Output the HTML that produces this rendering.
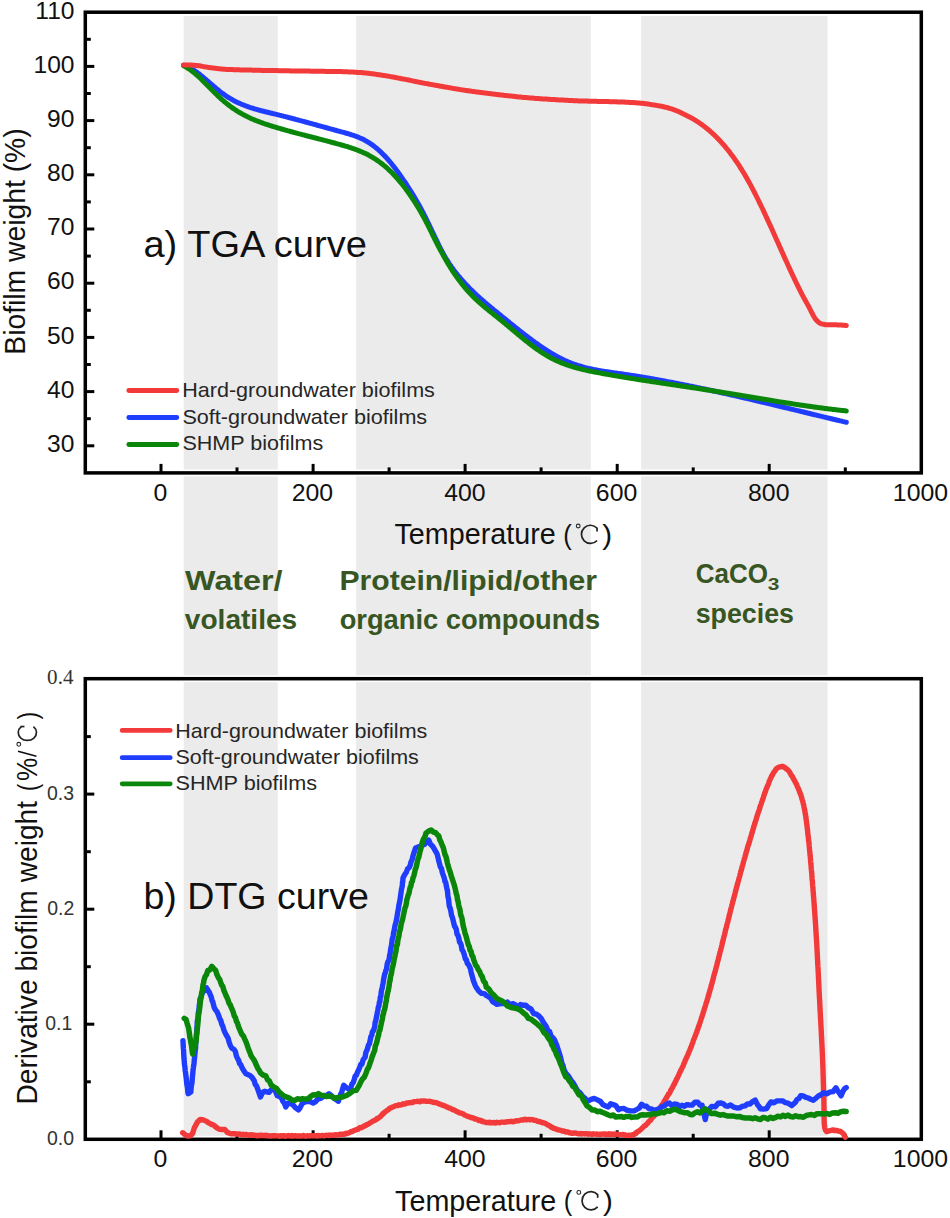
<!DOCTYPE html>
<html><head><meta charset="utf-8"><style>
html,body{margin:0;padding:0;background:#fff;}
svg{display:block;}
text{font-family:"Liberation Sans",sans-serif;}
.tk{font-size:23px;fill:#111;}
.tks{font-size:20.5px;fill:#333;}
.lg{font-size:20px;fill:#262626;}
.ax{font-size:29px;fill:#111;}
.axs{font-size:29px;fill:#111;}
.big{font-size:37px;fill:#111;}
.gr{font-size:27.5px;font-weight:bold;fill:#375623;}
.gr2{font-size:28.5px;font-weight:bold;fill:#375623;}
.sub{font-size:16px;font-weight:bold;fill:#375623;}
.cc{font-family:"Liberation Serif",serif;font-size:28px;fill:#2a2a2a;}
.sl{font-family:"Liberation Serif",serif;font-size:28px;fill:#111;font-style:italic;}
.tkser{font-family:"Liberation Serif",serif;font-size:20px;fill:#333;}
</style></head>
<body><svg width="950" height="1218" viewBox="0 0 950 1218">
<rect x="0" y="0" width="950" height="1218" fill="#fff"/>
<rect x="183.7" y="16" width="94.10000000000002" height="1122" fill="#ebebeb"/>
<rect x="356.1" y="16" width="234.69999999999993" height="1122" fill="#ebebeb"/>
<rect x="641.1" y="16" width="186.39999999999998" height="1122" fill="#ebebeb"/>
<rect x="85.3" y="12.2" width="836.0" height="460.7" fill="none" stroke="#fff" stroke-width="6.9"/><rect x="85.3" y="12.2" width="836.0" height="460.7" fill="none" stroke="#000" stroke-width="3.5"/>
<line x1="85.3" y1="445.8" x2="94.3" y2="445.8" stroke="#000" stroke-width="3"/>
<line x1="85.3" y1="418.7" x2="90.8" y2="418.7" stroke="#000" stroke-width="3"/>
<line x1="85.3" y1="391.6" x2="94.3" y2="391.6" stroke="#000" stroke-width="3"/>
<line x1="85.3" y1="364.5" x2="90.8" y2="364.5" stroke="#000" stroke-width="3"/>
<line x1="85.3" y1="337.4" x2="94.3" y2="337.4" stroke="#000" stroke-width="3"/>
<line x1="85.3" y1="310.3" x2="90.8" y2="310.3" stroke="#000" stroke-width="3"/>
<line x1="85.3" y1="283.2" x2="94.3" y2="283.2" stroke="#000" stroke-width="3"/>
<line x1="85.3" y1="256.1" x2="90.8" y2="256.1" stroke="#000" stroke-width="3"/>
<line x1="85.3" y1="229.0" x2="94.3" y2="229.0" stroke="#000" stroke-width="3"/>
<line x1="85.3" y1="201.9" x2="90.8" y2="201.9" stroke="#000" stroke-width="3"/>
<line x1="85.3" y1="174.8" x2="94.3" y2="174.8" stroke="#000" stroke-width="3"/>
<line x1="85.3" y1="147.7" x2="90.8" y2="147.7" stroke="#000" stroke-width="3"/>
<line x1="85.3" y1="120.6" x2="94.3" y2="120.6" stroke="#000" stroke-width="3"/>
<line x1="85.3" y1="93.5" x2="90.8" y2="93.5" stroke="#000" stroke-width="3"/>
<line x1="85.3" y1="66.4" x2="94.3" y2="66.4" stroke="#000" stroke-width="3"/>
<line x1="85.3" y1="39.3" x2="90.8" y2="39.3" stroke="#000" stroke-width="3"/>
<line x1="161.0" y1="472.9" x2="161.0" y2="463.9" stroke="#000" stroke-width="3"/>
<line x1="237.0" y1="472.9" x2="237.0" y2="467.4" stroke="#000" stroke-width="3"/>
<line x1="313.1" y1="472.9" x2="313.1" y2="463.9" stroke="#000" stroke-width="3"/>
<line x1="389.1" y1="472.9" x2="389.1" y2="467.4" stroke="#000" stroke-width="3"/>
<line x1="465.1" y1="472.9" x2="465.1" y2="463.9" stroke="#000" stroke-width="3"/>
<line x1="541.1" y1="472.9" x2="541.1" y2="467.4" stroke="#000" stroke-width="3"/>
<line x1="617.2" y1="472.9" x2="617.2" y2="463.9" stroke="#000" stroke-width="3"/>
<line x1="693.2" y1="472.9" x2="693.2" y2="467.4" stroke="#000" stroke-width="3"/>
<line x1="769.2" y1="472.9" x2="769.2" y2="463.9" stroke="#000" stroke-width="3"/>
<line x1="845.3" y1="472.9" x2="845.3" y2="467.4" stroke="#000" stroke-width="3"/>
<polyline points="183.5,65.2 184.5,65.5 185.5,65.9 186.5,66.2 187.5,66.7 188.5,67.1 189.5,67.6 190.5,68.2 191.5,68.8 192.5,69.4 193.5,70.0 194.5,70.6 195.5,71.3 196.5,72.0 197.5,72.8 198.5,73.5 199.5,74.3 200.5,75.1 201.5,75.9 202.5,76.7 203.5,77.5 204.5,78.4 205.5,79.2 206.5,80.1 207.5,80.9 208.5,81.8 209.5,82.7 210.5,83.5 211.5,84.4 212.5,85.3 213.5,86.1 214.5,87.0 215.5,87.8 216.5,88.7 217.5,89.5 218.5,90.3 219.5,91.1 220.5,91.9 221.5,92.7 222.5,93.4 223.5,94.1 224.5,94.8 225.5,95.5 226.5,96.2 227.5,96.9 228.5,97.5 229.5,98.1 230.5,98.7 231.5,99.3 232.5,99.8 233.5,100.4 234.5,100.9 235.5,101.4 236.5,101.9 237.5,102.4 238.5,102.9 239.5,103.3 240.5,103.8 241.5,104.2 242.5,104.6 243.5,105.0 244.5,105.4 245.5,105.8 246.5,106.2 247.5,106.5 248.5,106.9 249.5,107.2 250.5,107.6 251.5,107.9 252.5,108.2 253.5,108.5 254.5,108.8 255.5,109.1 256.5,109.4 257.5,109.7 258.5,110.0 259.5,110.2 260.5,110.5 261.5,110.8 262.5,111.0 263.5,111.3 264.5,111.5 265.5,111.8 266.5,112.0 267.5,112.3 268.5,112.5 269.5,112.7 270.5,113.0 271.5,113.2 272.5,113.5 273.5,113.7 274.5,113.9 275.5,114.2 276.5,114.4 277.5,114.7 278.5,114.9 279.5,115.2 280.5,115.4 281.5,115.7 282.5,115.9 283.5,116.2 284.5,116.4 285.5,116.7 286.5,116.9 287.5,117.2 288.5,117.5 289.5,117.7 290.5,118.0 291.5,118.2 292.5,118.5 293.5,118.8 294.5,119.0 295.5,119.3 296.5,119.6 297.5,119.8 298.5,120.1 299.5,120.4 300.5,120.6 301.5,120.9 302.5,121.2 303.5,121.4 304.5,121.7 305.5,122.0 306.5,122.3 307.5,122.5 308.5,122.8 309.5,123.1 310.5,123.3 311.5,123.6 312.5,123.9 313.5,124.2 314.5,124.4 315.5,124.7 316.5,125.0 317.5,125.3 318.5,125.6 319.5,125.8 320.5,126.1 321.5,126.4 322.5,126.7 323.5,126.9 324.5,127.2 325.5,127.5 326.5,127.8 327.5,128.0 328.5,128.3 329.5,128.6 330.5,128.9 331.5,129.1 332.5,129.4 333.5,129.7 334.5,130.0 335.5,130.2 336.5,130.5 337.5,130.8 338.5,131.1 339.5,131.3 340.5,131.6 341.5,131.9 342.5,132.1 343.5,132.4 344.5,132.7 345.5,133.0 346.5,133.3 347.5,133.5 348.5,133.8 349.5,134.1 350.5,134.5 351.5,134.8 352.5,135.1 353.5,135.4 354.5,135.8 355.5,136.2 356.5,136.5 357.5,136.9 358.5,137.3 359.5,137.8 360.5,138.2 361.5,138.6 362.5,139.1 363.5,139.6 364.5,140.1 365.5,140.7 366.5,141.2 367.5,141.8 368.5,142.4 369.5,143.0 370.5,143.7 371.5,144.4 372.5,145.1 373.5,145.8 374.5,146.6 375.5,147.4 376.5,148.2 377.5,149.1 378.5,149.9 379.5,150.8 380.5,151.8 381.5,152.7 382.5,153.7 383.5,154.7 384.5,155.7 385.5,156.8 386.5,157.9 387.5,159.0 388.5,160.1 389.5,161.3 390.5,162.5 391.5,163.7 392.5,165.0 393.5,166.2 394.5,167.5 395.5,168.8 396.5,170.2 397.5,171.5 398.5,172.9 399.5,174.3 400.5,175.7 401.5,177.2 402.5,178.6 403.5,180.1 404.5,181.5 405.5,183.0 406.5,184.5 407.5,186.1 408.5,187.6 409.5,189.2 410.5,190.8 411.5,192.4 412.5,194.0 413.5,195.6 414.5,197.3 415.5,199.0 416.5,200.7 417.5,202.4 418.5,204.2 419.5,206.0 420.5,207.8 421.5,209.7 422.5,211.6 423.5,213.5 424.5,215.5 425.5,217.4 426.5,219.5 427.5,221.5 428.5,223.6 429.5,225.6 430.5,227.7 431.5,229.9 432.5,232.0 433.5,234.1 434.5,236.2 435.5,238.3 436.5,240.4 437.5,242.4 438.5,244.5 439.5,246.5 440.5,248.5 441.5,250.4 442.5,252.3 443.5,254.1 444.5,255.9 445.5,257.7 446.5,259.3 447.5,261.0 448.5,262.5 449.5,264.1 450.5,265.5 451.5,267.0 452.5,268.3 453.5,269.7 454.5,271.0 455.5,272.3 456.5,273.5 457.5,274.8 458.5,276.0 459.5,277.2 460.5,278.4 461.5,279.5 462.5,280.7 463.5,281.8 464.5,282.9 465.5,284.0 466.5,285.0 467.5,286.1 468.5,287.1 469.5,288.2 470.5,289.2 471.5,290.2 472.5,291.1 473.5,292.1 474.5,293.1 475.5,294.0 476.5,294.9 477.5,295.9 478.5,296.8 479.5,297.7 480.5,298.6 481.5,299.5 482.5,300.3 483.5,301.2 484.5,302.1 485.5,302.9 486.5,303.8 487.5,304.6 488.5,305.4 489.5,306.3 490.5,307.1 491.5,307.9 492.5,308.7 493.5,309.6 494.5,310.4 495.5,311.2 496.5,312.0 497.5,312.8 498.5,313.6 499.5,314.4 500.5,315.2 501.5,316.1 502.5,316.9 503.5,317.7 504.5,318.5 505.5,319.3 506.5,320.1 507.5,320.9 508.5,321.7 509.5,322.6 510.5,323.4 511.5,324.2 512.5,325.0 513.5,325.8 514.5,326.6 515.5,327.4 516.5,328.2 517.5,329.0 518.5,329.8 519.5,330.6 520.5,331.4 521.5,332.1 522.5,332.9 523.5,333.7 524.5,334.5 525.5,335.2 526.5,336.0 527.5,336.8 528.5,337.5 529.5,338.3 530.5,339.0 531.5,339.8 532.5,340.5 533.5,341.2 534.5,342.0 535.5,342.7 536.5,343.4 537.5,344.1 538.5,344.8 539.5,345.5 540.5,346.2 541.5,346.9 542.5,347.6 543.5,348.2 544.5,348.9 545.5,349.5 546.5,350.2 547.5,350.8 548.5,351.5 549.5,352.1 550.5,352.7 551.5,353.3 552.5,353.9 553.5,354.5 554.5,355.0 555.5,355.6 556.5,356.2 557.5,356.7 558.5,357.2 559.5,357.8 560.5,358.3 561.5,358.8 562.5,359.3 563.5,359.8 564.5,360.2 565.5,360.7 566.5,361.1 567.5,361.6 568.5,362.0 569.5,362.4 570.5,362.8 571.5,363.2 572.5,363.6 573.5,364.0 574.5,364.3 575.5,364.7 576.5,365.0 577.5,365.3 578.5,365.6 579.5,365.9 580.5,366.2 581.5,366.5 582.5,366.8 583.5,367.1 584.5,367.4 585.5,367.6 586.5,367.9 587.5,368.1 588.5,368.3 589.5,368.6 590.5,368.8 591.5,369.0 592.5,369.2 593.5,369.4 594.5,369.6 595.5,369.8 596.5,370.0 597.5,370.2 598.5,370.4 599.5,370.6 600.5,370.7 601.5,370.9 602.5,371.1 603.5,371.2 604.5,371.4 605.5,371.5 606.5,371.7 607.5,371.8 608.5,372.0 609.5,372.1 610.5,372.3 611.5,372.4 612.5,372.6 613.5,372.7 614.5,372.9 615.5,373.0 616.5,373.1 617.5,373.3 618.5,373.4 619.5,373.6 620.5,373.7 621.5,373.8 622.5,374.0 623.5,374.1 624.5,374.3 625.5,374.4 626.5,374.6 627.5,374.7 628.5,374.9 629.5,375.0 630.5,375.2 631.5,375.4 632.5,375.5 633.5,375.7 634.5,375.8 635.5,376.0 636.5,376.1 637.5,376.3 638.5,376.5 639.5,376.6 640.5,376.8 641.5,377.0 642.5,377.1 643.5,377.3 644.5,377.5 645.5,377.6 646.5,377.8 647.5,378.0 648.5,378.1 649.5,378.3 650.5,378.5 651.5,378.7 652.5,378.8 653.5,379.0 654.5,379.2 655.5,379.4 656.5,379.5 657.5,379.7 658.5,379.9 659.5,380.1 660.5,380.3 661.5,380.5 662.5,380.6 663.5,380.8 664.5,381.0 665.5,381.2 666.5,381.4 667.5,381.6 668.5,381.8 669.5,381.9 670.5,382.1 671.5,382.3 672.5,382.5 673.5,382.7 674.5,382.9 675.5,383.1 676.5,383.3 677.5,383.5 678.5,383.7 679.5,383.9 680.5,384.1 681.5,384.3 682.5,384.5 683.5,384.7 684.5,384.9 685.5,385.1 686.5,385.3 687.5,385.5 688.5,385.7 689.5,385.9 690.5,386.1 691.5,386.3 692.5,386.5 693.5,386.7 694.5,386.9 695.5,387.1 696.5,387.3 697.5,387.6 698.5,387.8 699.5,388.0 700.5,388.2 701.5,388.4 702.5,388.6 703.5,388.8 704.5,389.0 705.5,389.2 706.5,389.5 707.5,389.7 708.5,389.9 709.5,390.1 710.5,390.3 711.5,390.5 712.5,390.8 713.5,391.0 714.5,391.2 715.5,391.4 716.5,391.6 717.5,391.9 718.5,392.1 719.5,392.3 720.5,392.5 721.5,392.7 722.5,393.0 723.5,393.2 724.5,393.4 725.5,393.6 726.5,393.9 727.5,394.1 728.5,394.3 729.5,394.5 730.5,394.8 731.5,395.0 732.5,395.2 733.5,395.4 734.5,395.7 735.5,395.9 736.5,396.1 737.5,396.4 738.5,396.6 739.5,396.8 740.5,397.1 741.5,397.3 742.5,397.5 743.5,397.7 744.5,398.0 745.5,398.2 746.5,398.4 747.5,398.7 748.5,398.9 749.5,399.1 750.5,399.4 751.5,399.6 752.5,399.8 753.5,400.1 754.5,400.3 755.5,400.6 756.5,400.8 757.5,401.0 758.5,401.3 759.5,401.5 760.5,401.7 761.5,402.0 762.5,402.2 763.5,402.4 764.5,402.7 765.5,402.9 766.5,403.2 767.5,403.4 768.5,403.6 769.5,403.9 770.5,404.1 771.5,404.3 772.5,404.6 773.5,404.8 774.5,405.1 775.5,405.3 776.5,405.5 777.5,405.8 778.5,406.0 779.5,406.3 780.5,406.5 781.5,406.7 782.5,407.0 783.5,407.2 784.5,407.5 785.5,407.7 786.5,407.9 787.5,408.2 788.5,408.4 789.5,408.7 790.5,408.9 791.5,409.2 792.5,409.4 793.5,409.6 794.5,409.9 795.5,410.1 796.5,410.4 797.5,410.6 798.5,410.8 799.5,411.1 800.5,411.3 801.5,411.6 802.5,411.8 803.5,412.0 804.5,412.3 805.5,412.5 806.5,412.8 807.5,413.0 808.5,413.3 809.5,413.5 810.5,413.7 811.5,414.0 812.5,414.2 813.5,414.5 814.5,414.7 815.5,414.9 816.5,415.2 817.5,415.4 818.5,415.7 819.5,415.9 820.5,416.1 821.5,416.4 822.5,416.6 823.5,416.9 824.5,417.1 825.5,417.3 826.5,417.6 827.5,417.8 828.5,418.1 829.5,418.3 830.5,418.5 831.5,418.8 832.5,419.0 833.5,419.3 834.5,419.5 835.5,419.7 836.5,420.0 837.5,420.2 838.5,420.4 839.5,420.7 840.5,420.9 841.5,421.1 842.5,421.4 843.5,421.6 844.5,421.9 845.5,422.1 846.3,422.3" fill="none" stroke="#1f3dfc" stroke-width="5.0" stroke-linejoin="round" stroke-linecap="round"/>
<polyline points="183.5,65.8 184.5,66.3 185.5,66.8 186.5,67.4 187.5,68.0 188.5,68.6 189.5,69.3 190.5,70.0 191.5,70.7 192.5,71.5 193.5,72.3 194.5,73.1 195.5,74.0 196.5,74.8 197.5,75.7 198.5,76.6 199.5,77.5 200.5,78.5 201.5,79.4 202.5,80.4 203.5,81.4 204.5,82.4 205.5,83.4 206.5,84.4 207.5,85.4 208.5,86.4 209.5,87.4 210.5,88.5 211.5,89.5 212.5,90.5 213.5,91.5 214.5,92.5 215.5,93.5 216.5,94.5 217.5,95.4 218.5,96.4 219.5,97.3 220.5,98.3 221.5,99.2 222.5,100.1 223.5,100.9 224.5,101.8 225.5,102.6 226.5,103.4 227.5,104.2 228.5,105.0 229.5,105.8 230.5,106.5 231.5,107.2 232.5,108.0 233.5,108.6 234.5,109.3 235.5,110.0 236.5,110.6 237.5,111.3 238.5,111.9 239.5,112.5 240.5,113.1 241.5,113.6 242.5,114.2 243.5,114.7 244.5,115.3 245.5,115.8 246.5,116.3 247.5,116.8 248.5,117.3 249.5,117.7 250.5,118.2 251.5,118.7 252.5,119.1 253.5,119.5 254.5,119.9 255.5,120.4 256.5,120.8 257.5,121.2 258.5,121.5 259.5,121.9 260.5,122.3 261.5,122.7 262.5,123.0 263.5,123.4 264.5,123.7 265.5,124.1 266.5,124.4 267.5,124.7 268.5,125.0 269.5,125.4 270.5,125.7 271.5,126.0 272.5,126.3 273.5,126.6 274.5,126.9 275.5,127.2 276.5,127.5 277.5,127.8 278.5,128.1 279.5,128.4 280.5,128.7 281.5,129.0 282.5,129.3 283.5,129.5 284.5,129.8 285.5,130.1 286.5,130.4 287.5,130.7 288.5,130.9 289.5,131.2 290.5,131.5 291.5,131.8 292.5,132.0 293.5,132.3 294.5,132.6 295.5,132.8 296.5,133.1 297.5,133.4 298.5,133.6 299.5,133.9 300.5,134.1 301.5,134.4 302.5,134.7 303.5,134.9 304.5,135.2 305.5,135.5 306.5,135.7 307.5,136.0 308.5,136.2 309.5,136.5 310.5,136.7 311.5,137.0 312.5,137.3 313.5,137.5 314.5,137.8 315.5,138.0 316.5,138.3 317.5,138.5 318.5,138.8 319.5,139.1 320.5,139.3 321.5,139.6 322.5,139.8 323.5,140.1 324.5,140.4 325.5,140.6 326.5,140.9 327.5,141.2 328.5,141.4 329.5,141.7 330.5,142.0 331.5,142.2 332.5,142.5 333.5,142.8 334.5,143.0 335.5,143.3 336.5,143.6 337.5,143.9 338.5,144.1 339.5,144.4 340.5,144.7 341.5,145.0 342.5,145.3 343.5,145.5 344.5,145.8 345.5,146.1 346.5,146.4 347.5,146.7 348.5,147.0 349.5,147.4 350.5,147.7 351.5,148.0 352.5,148.4 353.5,148.7 354.5,149.0 355.5,149.4 356.5,149.8 357.5,150.2 358.5,150.5 359.5,150.9 360.5,151.4 361.5,151.8 362.5,152.2 363.5,152.7 364.5,153.1 365.5,153.6 366.5,154.1 367.5,154.6 368.5,155.1 369.5,155.7 370.5,156.2 371.5,156.8 372.5,157.4 373.5,158.0 374.5,158.6 375.5,159.2 376.5,159.9 377.5,160.6 378.5,161.3 379.5,162.0 380.5,162.7 381.5,163.5 382.5,164.3 383.5,165.1 384.5,165.9 385.5,166.7 386.5,167.6 387.5,168.5 388.5,169.4 389.5,170.4 390.5,171.3 391.5,172.3 392.5,173.3 393.5,174.4 394.5,175.4 395.5,176.5 396.5,177.6 397.5,178.7 398.5,179.9 399.5,181.1 400.5,182.3 401.5,183.5 402.5,184.7 403.5,186.0 404.5,187.3 405.5,188.6 406.5,190.0 407.5,191.3 408.5,192.7 409.5,194.2 410.5,195.6 411.5,197.1 412.5,198.6 413.5,200.1 414.5,201.6 415.5,203.2 416.5,204.8 417.5,206.4 418.5,208.1 419.5,209.8 420.5,211.5 421.5,213.2 422.5,215.0 423.5,216.8 424.5,218.7 425.5,220.6 426.5,222.5 427.5,224.4 428.5,226.4 429.5,228.4 430.5,230.5 431.5,232.5 432.5,234.6 433.5,236.6 434.5,238.6 435.5,240.6 436.5,242.6 437.5,244.6 438.5,246.5 439.5,248.4 440.5,250.3 441.5,252.1 442.5,253.9 443.5,255.7 444.5,257.5 445.5,259.3 446.5,261.0 447.5,262.7 448.5,264.4 449.5,266.0 450.5,267.6 451.5,269.2 452.5,270.8 453.5,272.3 454.5,273.8 455.5,275.2 456.5,276.7 457.5,278.1 458.5,279.5 459.5,280.8 460.5,282.1 461.5,283.4 462.5,284.7 463.5,285.9 464.5,287.1 465.5,288.3 466.5,289.5 467.5,290.6 468.5,291.7 469.5,292.8 470.5,293.8 471.5,294.9 472.5,295.9 473.5,296.9 474.5,297.9 475.5,298.9 476.5,299.8 477.5,300.7 478.5,301.7 479.5,302.6 480.5,303.5 481.5,304.3 482.5,305.2 483.5,306.1 484.5,306.9 485.5,307.8 486.5,308.6 487.5,309.4 488.5,310.2 489.5,311.0 490.5,311.8 491.5,312.6 492.5,313.4 493.5,314.2 494.5,315.0 495.5,315.8 496.5,316.6 497.5,317.4 498.5,318.2 499.5,319.0 500.5,319.8 501.5,320.6 502.5,321.5 503.5,322.3 504.5,323.1 505.5,323.9 506.5,324.8 507.5,325.6 508.5,326.4 509.5,327.3 510.5,328.1 511.5,328.9 512.5,329.8 513.5,330.6 514.5,331.4 515.5,332.3 516.5,333.1 517.5,334.0 518.5,334.8 519.5,335.6 520.5,336.4 521.5,337.3 522.5,338.1 523.5,338.9 524.5,339.7 525.5,340.5 526.5,341.3 527.5,342.1 528.5,342.9 529.5,343.7 530.5,344.4 531.5,345.2 532.5,345.9 533.5,346.7 534.5,347.4 535.5,348.2 536.5,348.9 537.5,349.6 538.5,350.3 539.5,351.0 540.5,351.7 541.5,352.3 542.5,353.0 543.5,353.6 544.5,354.2 545.5,354.8 546.5,355.4 547.5,356.0 548.5,356.6 549.5,357.2 550.5,357.7 551.5,358.2 552.5,358.7 553.5,359.3 554.5,359.7 555.5,360.2 556.5,360.7 557.5,361.1 558.5,361.6 559.5,362.0 560.5,362.4 561.5,362.9 562.5,363.3 563.5,363.6 564.5,364.0 565.5,364.4 566.5,364.8 567.5,365.1 568.5,365.4 569.5,365.8 570.5,366.1 571.5,366.4 572.5,366.7 573.5,367.0 574.5,367.3 575.5,367.6 576.5,367.9 577.5,368.2 578.5,368.4 579.5,368.7 580.5,368.9 581.5,369.2 582.5,369.4 583.5,369.7 584.5,369.9 585.5,370.1 586.5,370.3 587.5,370.6 588.5,370.8 589.5,371.0 590.5,371.2 591.5,371.4 592.5,371.6 593.5,371.8 594.5,372.0 595.5,372.2 596.5,372.4 597.5,372.6 598.5,372.7 599.5,372.9 600.5,373.1 601.5,373.3 602.5,373.5 603.5,373.7 604.5,373.8 605.5,374.0 606.5,374.2 607.5,374.4 608.5,374.6 609.5,374.7 610.5,374.9 611.5,375.1 612.5,375.3 613.5,375.4 614.5,375.6 615.5,375.8 616.5,375.9 617.5,376.1 618.5,376.3 619.5,376.5 620.5,376.6 621.5,376.8 622.5,377.0 623.5,377.1 624.5,377.3 625.5,377.4 626.5,377.6 627.5,377.8 628.5,377.9 629.5,378.1 630.5,378.3 631.5,378.4 632.5,378.6 633.5,378.7 634.5,378.9 635.5,379.1 636.5,379.2 637.5,379.4 638.5,379.5 639.5,379.7 640.5,379.8 641.5,380.0 642.5,380.2 643.5,380.3 644.5,380.5 645.5,380.6 646.5,380.8 647.5,380.9 648.5,381.1 649.5,381.2 650.5,381.4 651.5,381.5 652.5,381.7 653.5,381.8 654.5,382.0 655.5,382.1 656.5,382.3 657.5,382.4 658.5,382.6 659.5,382.7 660.5,382.9 661.5,383.0 662.5,383.2 663.5,383.3 664.5,383.5 665.5,383.6 666.5,383.8 667.5,383.9 668.5,384.1 669.5,384.2 670.5,384.4 671.5,384.5 672.5,384.7 673.5,384.8 674.5,385.0 675.5,385.1 676.5,385.3 677.5,385.4 678.5,385.6 679.5,385.7 680.5,385.9 681.5,386.0 682.5,386.2 683.5,386.3 684.5,386.5 685.5,386.6 686.5,386.8 687.5,386.9 688.5,387.1 689.5,387.2 690.5,387.4 691.5,387.5 692.5,387.7 693.5,387.8 694.5,388.0 695.5,388.1 696.5,388.3 697.5,388.4 698.5,388.6 699.5,388.7 700.5,388.9 701.5,389.0 702.5,389.2 703.5,389.4 704.5,389.5 705.5,389.7 706.5,389.8 707.5,390.0 708.5,390.1 709.5,390.3 710.5,390.4 711.5,390.6 712.5,390.8 713.5,390.9 714.5,391.1 715.5,391.2 716.5,391.4 717.5,391.6 718.5,391.7 719.5,391.9 720.5,392.0 721.5,392.2 722.5,392.4 723.5,392.5 724.5,392.7 725.5,392.9 726.5,393.0 727.5,393.2 728.5,393.3 729.5,393.5 730.5,393.7 731.5,393.8 732.5,394.0 733.5,394.2 734.5,394.3 735.5,394.5 736.5,394.7 737.5,394.8 738.5,395.0 739.5,395.2 740.5,395.3 741.5,395.5 742.5,395.7 743.5,395.8 744.5,396.0 745.5,396.2 746.5,396.3 747.5,396.5 748.5,396.7 749.5,396.8 750.5,397.0 751.5,397.2 752.5,397.3 753.5,397.5 754.5,397.7 755.5,397.8 756.5,398.0 757.5,398.2 758.5,398.3 759.5,398.5 760.5,398.7 761.5,398.8 762.5,399.0 763.5,399.2 764.5,399.3 765.5,399.5 766.5,399.6 767.5,399.8 768.5,400.0 769.5,400.1 770.5,400.3 771.5,400.5 772.5,400.6 773.5,400.8 774.5,400.9 775.5,401.1 776.5,401.3 777.5,401.4 778.5,401.6 779.5,401.8 780.5,401.9 781.5,402.1 782.5,402.2 783.5,402.4 784.5,402.5 785.5,402.7 786.5,402.9 787.5,403.0 788.5,403.2 789.5,403.3 790.5,403.5 791.5,403.6 792.5,403.8 793.5,403.9 794.5,404.1 795.5,404.3 796.5,404.4 797.5,404.6 798.5,404.7 799.5,404.9 800.5,405.0 801.5,405.2 802.5,405.3 803.5,405.4 804.5,405.6 805.5,405.7 806.5,405.9 807.5,406.0 808.5,406.2 809.5,406.3 810.5,406.5 811.5,406.6 812.5,406.7 813.5,406.9 814.5,407.0 815.5,407.2 816.5,407.3 817.5,407.4 818.5,407.6 819.5,407.7 820.5,407.8 821.5,408.0 822.5,408.1 823.5,408.2 824.5,408.4 825.5,408.5 826.5,408.6 827.5,408.7 828.5,408.9 829.5,409.0 830.5,409.1 831.5,409.2 832.5,409.4 833.5,409.5 834.5,409.6 835.5,409.7 836.5,409.8 837.5,409.9 838.5,410.1 839.5,410.2 840.5,410.3 841.5,410.4 842.5,410.5 843.5,410.6 844.5,410.7 845.5,410.8 846.3,410.9" fill="none" stroke="#0a870a" stroke-width="5.0" stroke-linejoin="round" stroke-linecap="round"/>
<polyline points="183.5,65.0 184.5,65.0 185.5,65.0 186.5,65.0 187.5,65.0 188.5,65.1 189.5,65.1 190.5,65.1 191.5,65.1 192.5,65.2 193.5,65.2 194.5,65.3 195.5,65.4 196.5,65.4 197.5,65.5 198.5,65.7 199.5,65.8 200.5,66.0 201.5,66.2 202.5,66.4 203.5,66.6 204.5,66.8 205.5,66.9 206.5,67.1 207.5,67.2 208.5,67.4 209.5,67.5 210.5,67.7 211.5,67.8 212.5,68.0 213.5,68.1 214.5,68.2 215.5,68.3 216.5,68.5 217.5,68.6 218.5,68.7 219.5,68.8 220.5,68.9 221.5,69.0 222.5,69.1 223.5,69.2 224.5,69.2 225.5,69.3 226.5,69.4 227.5,69.4 228.5,69.5 229.5,69.5 230.5,69.6 231.5,69.6 232.5,69.6 233.5,69.7 234.5,69.7 235.5,69.7 236.5,69.8 237.5,69.8 238.5,69.8 239.5,69.8 240.5,69.9 241.5,69.9 242.5,69.9 243.5,69.9 244.5,70.0 245.5,70.0 246.5,70.0 247.5,70.0 248.5,70.1 249.5,70.1 250.5,70.1 251.5,70.1 252.5,70.2 253.5,70.2 254.5,70.2 255.5,70.2 256.5,70.2 257.5,70.3 258.5,70.3 259.5,70.3 260.5,70.3 261.5,70.4 262.5,70.4 263.5,70.4 264.5,70.4 265.5,70.4 266.5,70.4 267.5,70.5 268.5,70.5 269.5,70.5 270.5,70.5 271.5,70.5 272.5,70.6 273.5,70.6 274.5,70.6 275.5,70.6 276.5,70.6 277.5,70.6 278.5,70.7 279.5,70.7 280.5,70.7 281.5,70.7 282.5,70.7 283.5,70.7 284.5,70.8 285.5,70.8 286.5,70.8 287.5,70.8 288.5,70.8 289.5,70.8 290.5,70.9 291.5,70.9 292.5,70.9 293.5,70.9 294.5,70.9 295.5,70.9 296.5,70.9 297.5,71.0 298.5,71.0 299.5,71.0 300.5,71.0 301.5,71.0 302.5,71.0 303.5,71.1 304.5,71.1 305.5,71.1 306.5,71.1 307.5,71.1 308.5,71.1 309.5,71.1 310.5,71.2 311.5,71.2 312.5,71.2 313.5,71.2 314.5,71.2 315.5,71.2 316.5,71.2 317.5,71.2 318.5,71.3 319.5,71.3 320.5,71.3 321.5,71.3 322.5,71.3 323.5,71.3 324.5,71.3 325.5,71.4 326.5,71.4 327.5,71.4 328.5,71.4 329.5,71.4 330.5,71.4 331.5,71.5 332.5,71.5 333.5,71.5 334.5,71.5 335.5,71.5 336.5,71.5 337.5,71.5 338.5,71.6 339.5,71.6 340.5,71.6 341.5,71.6 342.5,71.7 343.5,71.7 344.5,71.7 345.5,71.8 346.5,71.8 347.5,71.8 348.5,71.9 349.5,71.9 350.5,72.0 351.5,72.0 352.5,72.1 353.5,72.1 354.5,72.2 355.5,72.2 356.5,72.3 357.5,72.4 358.5,72.4 359.5,72.5 360.5,72.6 361.5,72.6 362.5,72.7 363.5,72.8 364.5,72.9 365.5,73.0 366.5,73.1 367.5,73.2 368.5,73.3 369.5,73.4 370.5,73.6 371.5,73.7 372.5,73.8 373.5,74.0 374.5,74.1 375.5,74.2 376.5,74.4 377.5,74.5 378.5,74.7 379.5,74.8 380.5,75.0 381.5,75.1 382.5,75.3 383.5,75.4 384.5,75.6 385.5,75.7 386.5,75.9 387.5,76.1 388.5,76.2 389.5,76.4 390.5,76.6 391.5,76.8 392.5,77.0 393.5,77.1 394.5,77.3 395.5,77.5 396.5,77.7 397.5,77.9 398.5,78.1 399.5,78.3 400.5,78.5 401.5,78.7 402.5,78.9 403.5,79.1 404.5,79.2 405.5,79.4 406.5,79.6 407.5,79.8 408.5,80.0 409.5,80.2 410.5,80.4 411.5,80.6 412.5,80.9 413.5,81.1 414.5,81.3 415.5,81.5 416.5,81.7 417.5,81.9 418.5,82.1 419.5,82.3 420.5,82.5 421.5,82.7 422.5,82.9 423.5,83.1 424.5,83.3 425.5,83.4 426.5,83.6 427.5,83.8 428.5,84.0 429.5,84.2 430.5,84.4 431.5,84.6 432.5,84.7 433.5,84.9 434.5,85.1 435.5,85.3 436.5,85.5 437.5,85.6 438.5,85.8 439.5,86.0 440.5,86.2 441.5,86.3 442.5,86.5 443.5,86.7 444.5,86.9 445.5,87.0 446.5,87.2 447.5,87.4 448.5,87.6 449.5,87.7 450.5,87.9 451.5,88.1 452.5,88.3 453.5,88.4 454.5,88.6 455.5,88.8 456.5,88.9 457.5,89.1 458.5,89.3 459.5,89.4 460.5,89.6 461.5,89.8 462.5,89.9 463.5,90.1 464.5,90.2 465.5,90.4 466.5,90.5 467.5,90.7 468.5,90.8 469.5,91.0 470.5,91.1 471.5,91.2 472.5,91.4 473.5,91.5 474.5,91.6 475.5,91.8 476.5,91.9 477.5,92.0 478.5,92.2 479.5,92.3 480.5,92.4 481.5,92.6 482.5,92.7 483.5,92.8 484.5,92.9 485.5,93.1 486.5,93.2 487.5,93.3 488.5,93.4 489.5,93.6 490.5,93.7 491.5,93.8 492.5,93.9 493.5,94.1 494.5,94.2 495.5,94.3 496.5,94.4 497.5,94.5 498.5,94.7 499.5,94.8 500.5,94.9 501.5,95.0 502.5,95.1 503.5,95.3 504.5,95.4 505.5,95.5 506.5,95.6 507.5,95.7 508.5,95.8 509.5,95.9 510.5,96.0 511.5,96.1 512.5,96.2 513.5,96.3 514.5,96.5 515.5,96.6 516.5,96.7 517.5,96.8 518.5,96.9 519.5,97.0 520.5,97.1 521.5,97.2 522.5,97.3 523.5,97.4 524.5,97.5 525.5,97.5 526.5,97.6 527.5,97.7 528.5,97.8 529.5,97.9 530.5,98.0 531.5,98.1 532.5,98.1 533.5,98.2 534.5,98.3 535.5,98.4 536.5,98.5 537.5,98.5 538.5,98.6 539.5,98.7 540.5,98.7 541.5,98.8 542.5,98.9 543.5,98.9 544.5,99.0 545.5,99.1 546.5,99.1 547.5,99.2 548.5,99.3 549.5,99.3 550.5,99.4 551.5,99.5 552.5,99.5 553.5,99.6 554.5,99.6 555.5,99.7 556.5,99.7 557.5,99.8 558.5,99.9 559.5,99.9 560.5,100.0 561.5,100.0 562.5,100.1 563.5,100.1 564.5,100.2 565.5,100.2 566.5,100.3 567.5,100.3 568.5,100.4 569.5,100.5 570.5,100.5 571.5,100.6 572.5,100.6 573.5,100.7 574.5,100.7 575.5,100.7 576.5,100.8 577.5,100.8 578.5,100.9 579.5,100.9 580.5,100.9 581.5,101.0 582.5,101.0 583.5,101.0 584.5,101.1 585.5,101.1 586.5,101.1 587.5,101.1 588.5,101.2 589.5,101.2 590.5,101.2 591.5,101.2 592.5,101.3 593.5,101.3 594.5,101.3 595.5,101.3 596.5,101.3 597.5,101.4 598.5,101.4 599.5,101.4 600.5,101.4 601.5,101.5 602.5,101.5 603.5,101.5 604.5,101.5 605.5,101.6 606.5,101.6 607.5,101.6 608.5,101.6 609.5,101.7 610.5,101.7 611.5,101.7 612.5,101.7 613.5,101.8 614.5,101.8 615.5,101.8 616.5,101.8 617.5,101.9 618.5,101.9 619.5,101.9 620.5,102.0 621.5,102.0 622.5,102.0 623.5,102.1 624.5,102.1 625.5,102.2 626.5,102.2 627.5,102.2 628.5,102.3 629.5,102.4 630.5,102.4 631.5,102.5 632.5,102.5 633.5,102.6 634.5,102.7 635.5,102.7 636.5,102.8 637.5,102.9 638.5,103.0 639.5,103.1 640.5,103.2 641.5,103.2 642.5,103.3 643.5,103.5 644.5,103.6 645.5,103.7 646.5,103.8 647.5,104.0 648.5,104.1 649.5,104.3 650.5,104.4 651.5,104.6 652.5,104.8 653.5,104.9 654.5,105.1 655.5,105.2 656.5,105.4 657.5,105.6 658.5,105.8 659.5,106.0 660.5,106.1 661.5,106.3 662.5,106.5 663.5,106.8 664.5,107.0 665.5,107.2 666.5,107.4 667.5,107.7 668.5,108.0 669.5,108.3 670.5,108.6 671.5,108.9 672.5,109.2 673.5,109.6 674.5,110.0 675.5,110.3 676.5,110.7 677.5,111.1 678.5,111.6 679.5,112.0 680.5,112.5 681.5,113.0 682.5,113.5 683.5,114.0 684.5,114.5 685.5,114.9 686.5,115.4 687.5,115.9 688.5,116.4 689.5,116.9 690.5,117.5 691.5,118.0 692.5,118.6 693.5,119.2 694.5,119.8 695.5,120.4 696.5,121.0 697.5,121.7 698.5,122.3 699.5,123.0 700.5,123.7 701.5,124.4 702.5,125.1 703.5,125.9 704.5,126.6 705.5,127.4 706.5,128.2 707.5,129.0 708.5,129.8 709.5,130.7 710.5,131.6 711.5,132.5 712.5,133.4 713.5,134.3 714.5,135.2 715.5,136.2 716.5,137.2 717.5,138.2 718.5,139.2 719.5,140.3 720.5,141.4 721.5,142.5 722.5,143.6 723.5,144.7 724.5,145.9 725.5,147.1 726.5,148.3 727.5,149.5 728.5,150.8 729.5,152.1 730.5,153.4 731.5,154.7 732.5,156.0 733.5,157.4 734.5,158.8 735.5,160.3 736.5,161.7 737.5,163.2 738.5,164.7 739.5,166.2 740.5,167.8 741.5,169.4 742.5,171.0 743.5,172.6 744.5,174.3 745.5,176.0 746.5,177.7 747.5,179.5 748.5,181.3 749.5,183.1 750.5,184.9 751.5,186.8 752.5,188.7 753.5,190.6 754.5,192.5 755.5,194.5 756.5,196.5 757.5,198.5 758.5,200.5 759.5,202.6 760.5,204.6 761.5,206.7 762.5,208.8 763.5,210.9 764.5,213.1 765.5,215.2 766.5,217.4 767.5,219.6 768.5,221.7 769.5,223.9 770.5,226.1 771.5,228.3 772.5,230.6 773.5,232.8 774.5,235.0 775.5,237.2 776.5,239.5 777.5,241.7 778.5,243.9 779.5,246.2 780.5,248.4 781.5,250.7 782.5,252.9 783.5,255.1 784.5,257.4 785.5,259.6 786.5,261.8 787.5,264.0 788.5,266.2 789.5,268.4 790.5,270.6 791.5,272.7 792.5,274.9 793.5,277.0 794.5,279.1 795.5,281.2 796.5,283.3 797.5,285.4 798.5,287.4 799.5,289.4 800.5,291.4 801.5,293.4 802.5,295.3 803.5,297.2 804.5,299.0 805.5,300.8 806.5,302.6 807.5,304.4 808.5,306.2 809.5,308.2 810.5,310.1 811.5,312.1 812.5,314.0 813.5,315.9 814.5,317.6 815.5,319.1 816.5,320.3 817.5,321.3 818.5,322.2 819.5,322.9 820.5,323.5 821.5,323.9 822.5,324.1 823.5,324.3 824.5,324.5 825.5,324.7 826.5,324.8 827.5,324.8 828.5,324.8 829.5,324.8 830.5,324.8 831.5,324.8 832.5,324.8 833.5,324.8 834.5,324.8 835.5,324.8 836.5,324.8 837.5,324.9 838.5,324.9 839.5,325.0 840.5,325.0 841.5,325.1 842.5,325.2 843.5,325.2 844.5,325.3 845.5,325.4 846.3,325.5" fill="none" stroke="#f33a3a" stroke-width="5.0" stroke-linejoin="round" stroke-linecap="round"/>
<line x1="128.8" y1="390.5" x2="176.8" y2="390.5" stroke="#f33a3a" stroke-width="4.8" stroke-linecap="round"/>
<line x1="128.8" y1="417.5" x2="176.8" y2="417.5" stroke="#1f3dfc" stroke-width="4.8" stroke-linecap="round"/>
<line x1="128.8" y1="444.5" x2="176.8" y2="444.5" stroke="#0a870a" stroke-width="4.8" stroke-linecap="round"/>
<g transform="matrix(1.0282,0,0,1,143.46,256.70)"><text class="big">a) TGA curve</text></g>
<g transform="matrix(1.0781,0,0,1,182.18,397.00)"><text class="lg">Hard-groundwater biofilms</text></g>
<g transform="matrix(1.0804,0,0,1,182.42,423.80)"><text class="lg">Soft-groundwater biofilms</text></g>
<g transform="matrix(1.0783,0,0,1,182.42,450.30)"><text class="lg">SHMP biofilms</text></g>
<g transform="matrix(0.9910,0,0,1,394.46,544.30)"><text class="axs">Temperature</text></g>
<g transform="matrix(0.8774,0,0,0.9688,563.16,543.99)"><text class="axs">(</text></g>
<g transform="matrix(1.0194,0,0,0.9798,602.35,543.82)"><text class="axs">)</text></g>
<g transform="translate(24.60,354.70) rotate(-90) scale(0.9759,1)"><text class="ax">Biofilm weight (%)</text></g>
<g transform="matrix(1.07,0,0,1,47.12,452.00)"><text class="tk">30</text></g>
<g transform="matrix(1.07,0,0,1,47.12,397.80)"><text class="tk">40</text></g>
<g transform="matrix(1.07,0,0,1,47.12,343.60)"><text class="tk">50</text></g>
<g transform="matrix(1.07,0,0,1,47.12,289.40)"><text class="tk">60</text></g>
<g transform="matrix(1.07,0,0,1,47.12,235.20)"><text class="tk">70</text></g>
<g transform="matrix(1.07,0,0,1,47.12,181.00)"><text class="tk">80</text></g>
<g transform="matrix(1.07,0,0,1,47.12,126.80)"><text class="tk">90</text></g>
<g transform="matrix(1.07,0,0,1,33.47,72.60)"><text class="tk">100</text></g>
<g transform="matrix(1.07,0,0,1,35.35,19.40)"><text class="tk">110</text></g>
<g transform="matrix(1.08,0,0,1,153.58,500.80)"><text class="tk">0</text></g>
<g transform="matrix(1.08,0,0,1,291.74,500.80)"><text class="tk">200</text></g>
<g transform="matrix(1.08,0,0,1,444.20,500.80)"><text class="tk">400</text></g>
<g transform="matrix(1.08,0,0,1,595.86,500.80)"><text class="tk">600</text></g>
<g transform="matrix(1.08,0,0,1,748.05,500.80)"><text class="tk">800</text></g>
<g transform="matrix(1.08,0,0,1,892.82,500.80)"><text class="tk">1000</text></g>
<path d="M597.05,528.26 A8.95,9.10 0 1 0 597.05,540.44" fill="none" stroke="#222" stroke-width="1.7"/><line x1="597.05" y1="527.66" x2="597.05" y2="531.46" stroke="#222" stroke-width="1.7"/>
<path d="M597.65,1194.66 A8.95,9.10 0 1 0 597.65,1206.84" fill="none" stroke="#222" stroke-width="1.7"/><line x1="597.65" y1="1194.06" x2="597.65" y2="1197.86" stroke="#222" stroke-width="1.7"/>
<circle cx="578.2" cy="526.0" r="1.9" fill="none" stroke="#2a2a2a" stroke-width="1.1"/>
<circle cx="578.8" cy="1192.4" r="1.9" fill="none" stroke="#2a2a2a" stroke-width="1.1"/>
<g transform="matrix(1.1746,0,0,1,185.10,589.70)"><text class="gr">Water/</text></g>
<g transform="matrix(1.0216,0,0,1,184.84,628.80)"><text class="gr">volatiles</text></g>
<g transform="matrix(1.0953,0,0,1,339.48,589.80)"><text class="gr">Protein/lipid/other</text></g>
<g transform="matrix(0.9914,0,0,1,339.71,628.80)"><text class="gr">organic compounds</text></g>
<g transform="matrix(0.9134,0,0,1,695.76,583.40)"><text class="gr2">CaCO</text></g>
<g transform="matrix(1.3032,0,0,1.0044,767.65,589.70)"><text class="sub">3</text></g>
<g transform="matrix(0.9405,0,0,1,695.66,622.60)"><text class="gr2">species</text></g>
<rect x="85.3" y="678.7" width="836.0" height="460.5999999999999" fill="none" stroke="#fff" stroke-width="6.9"/><rect x="85.3" y="678.7" width="836.0" height="460.5999999999999" fill="none" stroke="#000" stroke-width="3.5"/>
<line x1="85.3" y1="1081.8" x2="90.8" y2="1081.8" stroke="#000" stroke-width="3"/>
<line x1="85.3" y1="1024.2" x2="94.3" y2="1024.2" stroke="#000" stroke-width="3"/>
<line x1="85.3" y1="966.7" x2="90.8" y2="966.7" stroke="#000" stroke-width="3"/>
<line x1="85.3" y1="909.2" x2="94.3" y2="909.2" stroke="#000" stroke-width="3"/>
<line x1="85.3" y1="851.7" x2="90.8" y2="851.7" stroke="#000" stroke-width="3"/>
<line x1="85.3" y1="794.1" x2="94.3" y2="794.1" stroke="#000" stroke-width="3"/>
<line x1="85.3" y1="736.6" x2="90.8" y2="736.6" stroke="#000" stroke-width="3"/>
<line x1="161.0" y1="1139.3" x2="161.0" y2="1130.3" stroke="#000" stroke-width="3"/>
<line x1="237.0" y1="1139.3" x2="237.0" y2="1133.8" stroke="#000" stroke-width="3"/>
<line x1="313.1" y1="1139.3" x2="313.1" y2="1130.3" stroke="#000" stroke-width="3"/>
<line x1="389.1" y1="1139.3" x2="389.1" y2="1133.8" stroke="#000" stroke-width="3"/>
<line x1="465.1" y1="1139.3" x2="465.1" y2="1130.3" stroke="#000" stroke-width="3"/>
<line x1="541.1" y1="1139.3" x2="541.1" y2="1133.8" stroke="#000" stroke-width="3"/>
<line x1="617.2" y1="1139.3" x2="617.2" y2="1130.3" stroke="#000" stroke-width="3"/>
<line x1="693.2" y1="1139.3" x2="693.2" y2="1133.8" stroke="#000" stroke-width="3"/>
<line x1="769.2" y1="1139.3" x2="769.2" y2="1130.3" stroke="#000" stroke-width="3"/>
<line x1="845.3" y1="1139.3" x2="845.3" y2="1133.8" stroke="#000" stroke-width="3"/>
<polyline points="182.6,1132.8 183.3,1133.1 184.3,1134.1 185.4,1134.8 186.6,1135.7 187.6,1136.1 188.7,1135.8 189.8,1135.6 190.8,1135.7 191.8,1134.3 192.2,1133.6 192.6,1133.4 193.0,1132.1 193.3,1131.3 193.7,1130.0 194.0,1129.0 194.4,1127.6 194.8,1127.0 195.2,1126.3 195.8,1125.0 196.3,1124.2 196.9,1123.2 197.5,1121.8 198.1,1121.6 198.7,1120.8 199.4,1120.0 200.4,1119.4 201.4,1120.0 202.5,1119.7 203.5,1120.1 204.5,1120.5 205.6,1120.8 206.5,1121.6 207.6,1121.9 208.7,1122.9 209.6,1123.2 210.6,1124.1 211.6,1124.6 212.6,1124.5 213.6,1125.1 214.6,1125.8 215.5,1127.0 216.3,1127.2 217.1,1128.0 218.0,1128.4 218.8,1129.0 219.6,1129.3 220.6,1129.4 221.7,1129.5 222.8,1129.4 223.8,1129.6 224.7,1129.5 225.6,1130.4 226.4,1131.3 227.1,1132.4 228.1,1132.9 229.1,1132.9 230.1,1133.6 231.3,1133.8 232.5,1133.8 233.9,1133.7 234.8,1133.9 235.7,1133.6 236.7,1134.2 237.7,1134.1 238.8,1134.0 239.9,1133.9 241.1,1134.7 242.4,1134.9 243.3,1134.2 244.2,1134.9 245.1,1134.6 246.0,1134.5 247.0,1134.7 248.0,1135.1 249.0,1135.3 250.1,1134.7 251.2,1135.2 252.4,1134.8 253.7,1135.4 255.0,1135.2 255.8,1135.6 256.6,1135.7 257.4,1135.4 258.2,1135.8 259.0,1135.3 259.8,1135.1 260.7,1135.6 261.5,1135.2 262.4,1135.3 263.3,1135.5 264.3,1135.7 265.2,1135.4 266.3,1135.3 267.4,1136.0 268.5,1135.6 269.7,1136.1 271.0,1136.1 272.4,1135.7 273.8,1135.8 275.3,1135.8 276.1,1135.9 276.9,1135.9 277.7,1135.9 278.5,1135.9 279.4,1136.2 280.3,1135.8 281.3,1135.8 282.2,1136.0 283.2,1135.6 284.2,1135.7 285.3,1136.3 286.3,1135.9 287.4,1135.9 288.4,1135.5 289.5,1135.8 290.6,1136.0 291.7,1135.5 292.8,1136.0 294.0,1136.0 295.1,1135.6 296.2,1136.0 297.3,1135.9 298.5,1136.1 299.6,1135.8 300.7,1136.1 301.8,1136.1 302.9,1135.5 304.0,1135.6 305.1,1136.1 306.2,1136.3 307.2,1135.7 308.3,1135.9 309.3,1136.0 310.3,1135.7 311.3,1135.8 312.2,1135.7 313.2,1135.8 314.1,1135.9 314.9,1135.7 315.8,1135.7 316.6,1136.0 317.4,1135.4 318.8,1135.8 320.2,1135.9 321.6,1135.5 322.9,1135.4 324.1,1135.9 325.3,1135.4 326.5,1135.3 327.6,1135.4 328.7,1135.6 329.7,1135.0 330.7,1135.1 331.7,1135.1 332.6,1135.4 333.5,1135.0 334.4,1135.3 335.3,1134.7 336.1,1134.8 336.9,1134.9 337.7,1135.0 338.5,1134.6 339.3,1134.4 340.0,1134.2 341.5,1134.4 342.8,1133.9 343.8,1134.3 344.8,1134.1 345.6,1133.4 346.4,1133.3 347.2,1133.5 348.0,1133.1 348.9,1132.9 350.0,1132.2 350.8,1131.7 351.7,1131.5 352.6,1131.6 353.5,1130.8 354.4,1130.4 355.3,1130.1 356.2,1129.7 357.2,1129.2 358.2,1129.2 359.1,1128.1 360.1,1127.5 361.1,1127.8 362.0,1127.3 363.0,1126.9 363.9,1126.0 364.7,1126.0 365.6,1125.6 366.5,1124.6 367.3,1124.5 368.2,1124.2 369.1,1123.6 370.0,1123.0 370.9,1122.3 371.8,1121.9 372.7,1121.3 373.6,1120.6 374.5,1120.5 375.4,1119.8 376.2,1119.6 377.1,1118.4 377.9,1118.6 378.7,1117.8 379.5,1117.3 380.3,1116.6 381.1,1115.9 381.9,1115.0 382.7,1113.8 383.5,1113.7 384.3,1112.5 385.1,1111.9 385.9,1111.5 386.6,1110.7 387.4,1110.0 388.2,1109.8 389.0,1109.0 389.8,1108.2 390.6,1107.7 391.6,1107.7 392.6,1106.9 393.6,1106.8 394.6,1106.1 395.6,1105.6 396.6,1105.6 397.6,1105.6 398.6,1104.8 399.5,1105.1 400.5,1105.0 401.5,1104.7 402.4,1104.6 403.3,1103.7 404.2,1104.0 405.4,1103.9 406.5,1103.0 407.6,1103.0 408.7,1102.8 409.8,1102.8 410.8,1102.5 411.8,1102.4 412.9,1102.5 413.9,1101.7 415.0,1101.6 416.1,1101.6 417.1,1101.4 418.2,1101.2 419.2,1101.8 420.2,1101.6 421.3,1100.9 422.4,1101.1 423.5,1101.0 424.6,1101.0 425.8,1101.1 426.7,1101.4 427.7,1101.4 428.6,1101.4 429.6,1101.3 430.6,1101.6 431.6,1101.6 432.6,1102.1 433.7,1102.5 434.7,1102.5 435.8,1102.5 437.0,1102.9 438.2,1103.4 439.4,1104.0 440.2,1104.4 441.1,1104.4 442.0,1105.1 442.9,1105.3 443.8,1105.5 444.8,1105.9 445.7,1106.4 446.7,1107.0 447.7,1107.2 448.7,1107.8 449.7,1108.1 450.7,1108.4 451.7,1109.1 452.7,1109.7 453.6,1109.6 454.6,1110.3 455.6,1110.7 456.5,1111.5 457.4,1112.0 458.3,1111.9 459.3,1112.8 460.3,1113.1 461.3,1113.1 462.3,1113.7 463.3,1113.9 464.3,1114.9 465.2,1115.2 466.2,1115.8 467.1,1116.1 468.1,1116.4 469.0,1116.9 470.0,1117.1 470.9,1117.1 471.8,1117.9 472.7,1117.7 473.7,1118.2 474.6,1119.0 475.6,1118.8 476.7,1119.2 477.6,1119.5 478.6,1120.5 479.6,1120.2 480.6,1120.4 481.5,1121.3 482.5,1121.0 483.5,1121.8 484.5,1121.9 485.5,1122.3 486.6,1122.6 487.7,1122.4 488.8,1122.7 490.0,1122.2 490.9,1122.9 491.8,1122.7 492.7,1122.9 493.7,1122.4 494.7,1122.9 495.7,1123.0 496.7,1122.3 497.8,1122.5 498.8,1122.6 499.9,1122.8 500.9,1122.2 502.0,1122.1 503.0,1122.1 504.1,1122.3 505.1,1122.3 506.2,1121.9 507.2,1121.8 508.2,1121.8 509.1,1121.6 510.1,1121.6 511.0,1121.3 512.1,1121.5 513.2,1121.8 514.3,1121.2 515.3,1121.3 516.3,1120.6 517.4,1120.9 518.4,1120.8 519.4,1120.5 520.3,1120.2 521.3,1120.0 522.3,1120.0 523.2,1120.1 524.2,1119.4 525.1,1119.3 526.0,1119.7 527.0,1119.8 527.9,1119.5 529.0,1119.5 530.0,1119.8 531.0,1119.5 532.1,1119.7 533.1,1119.8 534.1,1120.3 535.1,1120.3 536.1,1120.5 537.1,1121.1 538.1,1121.6 539.0,1121.3 540.0,1121.9 540.9,1122.0 541.7,1122.6 542.6,1122.7 543.7,1122.8 544.8,1123.2 545.8,1123.6 546.8,1124.4 547.7,1124.9 548.6,1125.2 549.5,1125.9 550.4,1126.4 551.3,1127.3 552.3,1127.2 553.2,1128.3 554.3,1128.3 555.3,1128.8 556.4,1129.0 557.4,1129.7 558.5,1130.0 559.5,1130.0 560.6,1130.3 561.6,1130.7 562.7,1131.1 563.7,1131.0 564.7,1131.5 565.6,1132.0 566.5,1131.8 567.4,1131.9 568.3,1132.1 569.2,1132.7 570.3,1132.8 571.4,1133.2 572.7,1133.3 574.2,1133.0 575.0,1133.0 575.8,1133.1 576.7,1133.2 577.6,1133.6 578.5,1133.8 579.5,1133.9 580.5,1133.5 581.5,1134.0 582.5,1133.6 583.6,1133.7 584.6,1134.0 585.7,1133.6 586.8,1133.6 587.9,1134.2 589.0,1133.9 590.1,1133.9 591.1,1134.2 592.2,1134.3 593.3,1133.8 594.3,1134.0 595.3,1134.1 596.3,1134.2 597.3,1134.0 598.4,1134.3 599.4,1134.6 600.4,1134.2 601.5,1134.3 602.5,1133.9 603.6,1134.0 604.6,1134.3 605.7,1133.9 606.7,1134.5 607.7,1134.5 608.8,1133.8 609.8,1134.5 610.8,1134.0 611.7,1134.4 612.7,1134.4 613.6,1134.0 614.5,1134.3 615.4,1134.3 616.3,1134.4 617.6,1134.1 618.8,1134.5 620.0,1134.8 621.2,1134.7 622.3,1134.7 623.4,1134.5 624.5,1135.0 625.6,1135.0 626.6,1135.4 627.5,1135.5 628.5,1135.4 629.4,1135.1 630.2,1135.5 631.0,1135.4 632.4,1134.8 633.5,1135.0 634.5,1134.3 635.3,1133.3 636.2,1133.3 637.0,1131.9 638.0,1131.4 638.8,1131.1 639.5,1130.5 640.3,1129.8 641.1,1129.2 641.9,1128.4 642.7,1127.6 643.5,1126.8 644.3,1126.0 645.2,1125.7 646.0,1124.9 646.8,1124.0 647.5,1123.4 648.3,1122.3 649.1,1121.4 649.9,1120.6 650.7,1120.1 651.4,1118.6 652.2,1118.0 653.0,1116.9 653.8,1116.3 654.6,1115.0 655.1,1114.4 655.6,1113.8 656.1,1113.3 656.6,1112.8 657.0,1111.8 657.5,1111.6 658.0,1110.3 658.5,1109.7 659.0,1108.9 659.5,1108.2 660.0,1108.1 660.5,1107.3 661.0,1106.2 661.5,1105.5 661.9,1104.9 662.4,1104.5 662.9,1103.9 663.3,1103.1 663.9,1102.1 664.4,1100.9 665.0,1100.2 665.5,1099.2 666.0,1098.6 666.5,1097.8 667.0,1096.7 667.5,1095.9 668.0,1095.4 668.5,1094.0 669.1,1093.7 669.6,1092.9 670.1,1092.0 670.6,1090.6 671.1,1089.8 671.7,1088.9 672.2,1087.9 672.7,1087.2 673.3,1085.9 673.8,1084.6 674.4,1084.0 674.9,1082.6 675.4,1081.7 676.0,1080.8 676.5,1079.1 677.0,1078.7 677.5,1077.6 678.0,1076.5 678.5,1075.4 679.0,1074.3 679.5,1073.0 680.0,1072.3 680.5,1070.8 681.0,1070.1 681.5,1069.2 682.0,1068.0 682.4,1067.1 682.9,1066.4 683.3,1065.4 683.8,1063.8 684.2,1063.3 684.6,1062.3 685.0,1060.9 685.4,1060.2 685.8,1059.2 686.2,1058.2 686.5,1057.7 686.9,1057.2 687.3,1055.8 687.6,1055.4 688.0,1054.4 688.4,1053.1 688.7,1052.8 689.1,1051.7 689.5,1051.0 689.9,1049.9 690.2,1049.0 690.6,1047.8 691.0,1047.2 691.4,1046.4 691.7,1045.3 692.1,1044.0 692.5,1043.3 692.9,1042.2 693.2,1040.9 693.6,1039.8 694.0,1038.9 694.4,1038.0 694.8,1036.9 695.1,1036.2 695.5,1035.3 695.9,1034.1 696.3,1033.0 696.7,1032.1 697.1,1030.7 697.5,1029.8 697.9,1028.9 698.2,1027.6 698.6,1026.3 699.0,1025.8 699.3,1024.7 699.7,1023.5 700.0,1022.5 700.3,1021.7 700.6,1020.8 701.0,1019.5 701.3,1018.4 701.6,1017.5 701.9,1017.0 702.3,1015.5 702.6,1014.8 702.9,1013.6 703.2,1012.6 703.6,1011.5 703.9,1010.7 704.2,1009.5 704.5,1008.4 704.8,1007.5 705.2,1006.5 705.5,1005.7 705.8,1004.3 706.1,1003.3 706.4,1002.6 706.7,1001.5 707.1,1000.7 707.4,999.1 707.7,998.4 708.0,997.4 708.2,996.1 708.5,995.9 708.8,994.4 709.0,993.5 709.2,993.1 709.4,992.2 709.6,991.9 709.8,991.1 709.9,990.3 710.1,989.7 710.2,989.7 710.4,988.8 710.6,988.6 710.7,987.8 710.9,987.5 711.1,986.3 711.3,985.5 711.5,984.6 711.8,984.1 712.1,983.0 712.4,981.6 712.6,980.6 712.8,980.3 713.0,979.7 713.3,978.6 713.5,977.2 713.7,976.3 714.0,975.4 714.3,974.5 714.5,973.4 714.8,972.4 715.1,971.8 715.4,970.9 715.6,969.3 715.9,968.8 716.2,967.3 716.5,966.4 716.8,965.3 717.1,964.2 717.4,962.3 717.7,961.4 718.0,960.5 718.3,959.6 718.6,957.7 718.9,956.7 719.2,956.0 719.5,954.3 719.8,953.4 720.0,952.2 720.3,951.4 720.6,950.5 720.9,948.9 721.1,948.3 721.4,947.3 721.6,946.4 721.9,945.2 722.1,944.5 722.3,943.1 722.6,942.1 722.8,941.0 723.1,940.5 723.3,939.3 723.6,938.1 723.8,937.0 724.1,936.5 724.3,935.4 724.6,934.5 724.8,933.3 725.1,932.4 725.3,931.1 725.5,930.6 725.8,929.0 726.1,928.4 726.3,927.6 726.6,926.5 726.8,925.0 727.1,924.1 727.3,923.5 727.6,922.3 727.9,921.4 728.1,920.4 728.4,919.0 728.7,918.2 728.9,917.2 729.2,916.0 729.4,915.1 729.6,913.9 729.9,913.2 730.1,912.7 730.3,911.1 730.6,910.6 730.8,909.2 731.1,908.3 731.3,907.8 731.6,906.5 731.8,905.4 732.1,904.5 732.3,903.9 732.6,902.9 732.8,901.5 733.1,900.7 733.3,900.3 733.6,898.7 733.8,898.0 734.1,896.9 734.3,896.2 734.6,895.1 734.9,894.3 735.1,893.1 735.4,891.9 735.6,890.9 735.9,889.8 736.1,889.5 736.4,887.9 736.6,886.9 736.9,886.7 737.1,885.2 737.4,884.8 737.6,883.2 737.9,882.5 738.2,881.4 738.4,881.0 738.7,879.6 739.0,878.5 739.3,877.4 739.7,876.3 740.0,874.7 740.3,873.8 740.6,872.5 740.9,871.0 741.3,870.4 741.6,869.1 741.9,868.1 742.2,866.4 742.5,865.6 742.9,864.3 743.2,863.4 743.5,861.7 743.8,860.8 744.1,859.8 744.5,858.3 744.8,857.6 745.1,856.6 745.4,855.3 745.7,854.4 746.0,853.3 746.3,851.9 746.6,850.9 746.9,850.4 747.2,848.9 747.5,847.9 747.8,846.6 748.1,845.7 748.4,844.7 748.7,844.4 748.9,843.3 749.2,842.5 749.5,841.6 749.8,840.4 750.0,839.7 750.3,838.5 750.6,837.5 750.8,837.1 751.1,836.1 751.4,835.3 751.6,834.0 751.9,833.4 752.1,832.2 752.4,831.9 752.6,831.0 752.9,829.6 753.2,829.3 753.4,827.9 753.6,827.0 753.9,826.7 754.1,825.6 754.4,825.0 754.6,824.3 754.8,823.1 755.1,822.9 755.3,821.8 755.5,821.2 755.8,820.4 756.0,820.0 756.2,819.3 756.6,817.8 756.9,816.6 757.3,815.6 757.6,814.7 757.9,813.4 758.2,812.5 758.5,812.0 758.8,811.0 759.1,810.3 759.4,809.4 759.7,808.4 760.0,807.2 760.3,806.1 760.6,805.4 760.9,804.7 761.2,803.9 761.4,803.0 761.7,802.0 762.0,801.6 762.4,800.1 762.7,799.2 763.1,798.5 763.4,797.4 763.7,796.1 764.1,795.0 764.4,794.6 764.7,793.0 765.1,792.2 765.4,791.6 765.7,790.7 766.0,789.5 766.4,788.6 766.7,787.8 767.0,787.4 767.5,786.0 767.9,785.2 768.4,783.9 768.8,783.0 769.3,781.1 769.8,780.2 770.2,779.1 770.7,778.4 771.1,777.3 771.6,776.1 772.2,775.4 772.8,773.9 773.4,773.0 774.0,772.0 774.6,771.5 775.3,770.3 775.9,769.4 776.6,768.5 777.5,767.9 778.5,767.4 779.6,766.9 780.6,766.8 781.6,766.7 782.5,766.3 783.3,766.5 784.1,767.3 784.9,767.8 785.6,768.1 786.3,768.9 787.1,769.4 787.9,770.0 788.6,770.8 789.4,771.7 790.2,773.2 790.9,774.5 791.7,775.8 792.3,776.4 792.9,777.5 793.4,778.8 794.0,779.7 794.6,780.7 795.1,781.7 795.7,782.9 796.3,783.8 796.7,784.7 797.1,785.9 797.5,787.0 797.9,787.6 798.3,788.4 798.7,789.4 799.1,790.4 799.5,791.6 799.8,792.3 800.2,793.7 800.6,794.0 800.9,795.1 801.2,796.1 801.5,796.9 801.7,798.1 802.0,799.0 802.3,800.0 802.5,800.6 802.8,801.1 803.0,802.5 803.2,803.5 803.5,804.4 803.7,805.2 803.9,806.5 804.1,807.6 804.3,808.0 804.5,809.4 804.7,810.1 804.9,811.1 805.0,812.3 805.2,813.2 805.3,813.8 805.5,814.3 805.6,815.9 805.8,816.3 805.9,817.6 806.1,819.3 806.3,820.3 806.5,821.8 806.6,823.1 806.7,823.9 806.8,824.1 806.9,825.0 807.0,825.7 807.1,826.4 807.2,827.4 807.3,828.8 807.4,829.0 807.5,830.0 807.6,830.9 807.7,831.8 807.8,833.1 807.9,834.2 808.0,835.3 808.2,836.2 808.3,837.3 808.4,837.7 808.5,839.0 808.6,840.7 808.7,841.0 808.9,842.3 809.0,843.6 809.1,844.6 809.2,846.0 809.3,846.8 809.4,848.1 809.6,849.9 809.7,850.5 809.8,852.3 809.9,852.6 810.0,854.1 810.0,854.7 810.1,855.6 810.2,856.1 810.3,856.9 810.4,858.4 810.5,858.8 810.5,859.8 810.6,861.3 810.7,862.3 810.8,862.6 810.9,864.3 811.0,864.9 811.1,865.8 811.1,866.6 811.2,867.8 811.3,869.3 811.4,869.8 811.5,870.7 811.6,871.7 811.7,872.8 811.8,874.0 811.9,875.5 811.9,875.9 812.0,877.0 812.1,878.7 812.2,879.8 812.3,880.8 812.4,881.3 812.5,882.4 812.5,883.9 812.6,884.6 812.7,885.8 812.8,886.6 812.9,887.4 813.0,888.7 813.0,890.1 813.1,891.1 813.2,892.0 813.3,892.9 813.4,894.0 813.4,894.9 813.5,896.0 813.6,897.3 813.7,897.8 813.8,899.1 813.8,900.4 813.9,901.3 814.0,901.8 814.1,903.4 814.1,904.3 814.2,904.7 814.3,905.8 814.3,906.7 814.4,907.6 814.5,909.3 814.5,909.8 814.6,911.1 814.7,911.5 814.8,912.4 814.8,914.0 814.9,914.9 815.0,916.1 815.0,916.8 815.1,917.7 815.2,918.8 815.2,919.3 815.3,920.6 815.4,921.5 815.4,922.3 815.5,923.7 815.6,924.4 815.6,925.6 815.7,926.5 815.7,927.5 815.8,928.5 815.9,929.8 815.9,931.1 816.0,932.1 816.1,933.1 816.1,934.2 816.2,934.8 816.3,936.5 816.3,937.0 816.4,938.0 816.5,939.4 816.5,940.7 816.6,941.6 816.7,942.7 816.7,943.4 816.8,944.8 816.8,945.3 816.9,946.3 816.9,947.3 817.0,948.5 817.0,949.6 817.1,950.2 817.1,951.1 817.2,952.2 817.2,952.7 817.3,954.0 817.3,955.3 817.4,956.3 817.4,956.7 817.5,958.3 817.5,958.9 817.6,960.4 817.6,961.0 817.7,961.9 817.7,963.1 817.8,964.4 817.8,965.1 817.9,966.5 818.0,967.4 818.0,968.2 818.1,969.1 818.1,970.4 818.2,971.3 818.2,972.3 818.3,973.6 818.3,974.8 818.4,975.6 818.4,976.3 818.5,977.4 818.5,978.6 818.6,979.9 818.6,980.5 818.7,981.5 818.7,982.8 818.8,983.8 818.8,984.6 818.9,986.1 818.9,987.4 819.0,988.2 819.0,989.4 819.1,990.5 819.1,991.5 819.2,992.6 819.2,993.3 819.3,994.5 819.3,995.0 819.4,996.7 819.4,997.3 819.5,998.4 819.6,999.7 819.6,1000.3 819.7,1001.2 819.7,1002.7 819.8,1003.6 819.8,1004.2 819.9,1005.2 819.9,1006.5 820.0,1007.3 820.0,1009.0 820.1,1009.5 820.1,1010.6 820.2,1011.7 820.3,1012.9 820.3,1013.9 820.4,1015.1 820.4,1016.2 820.5,1017.0 820.5,1017.8 820.6,1019.6 820.7,1020.4 820.7,1021.0 820.8,1022.3 820.8,1023.6 820.9,1024.8 820.9,1025.2 821.0,1026.2 821.0,1027.6 821.1,1028.6 821.2,1030.0 821.2,1031.0 821.3,1031.6 821.3,1032.7 821.4,1033.9 821.4,1035.1 821.5,1035.6 821.5,1036.8 821.6,1037.5 821.6,1039.0 821.7,1039.5 821.7,1041.2 821.8,1041.9 821.8,1042.9 821.9,1043.5 821.9,1044.6 822.0,1045.7 822.0,1047.0 822.1,1047.7 822.1,1048.4 822.2,1049.9 822.2,1050.6 822.2,1051.4 822.3,1052.1 822.3,1053.1 822.4,1054.4 822.4,1054.7 822.5,1056.2 822.5,1057.4 822.5,1058.4 822.6,1059.9 822.6,1061.1 822.7,1062.2 822.7,1063.2 822.8,1063.9 822.8,1064.9 822.8,1066.3 822.9,1067.3 822.9,1068.3 823.0,1069.9 823.0,1070.4 823.0,1071.9 823.1,1073.1 823.1,1073.5 823.1,1075.1 823.1,1075.7 823.2,1076.6 823.2,1077.6 823.2,1078.5 823.3,1079.8 823.3,1080.7 823.3,1082.1 823.3,1083.0 823.4,1083.4 823.4,1084.6 823.4,1085.6 823.5,1086.3 823.5,1087.3 823.5,1088.3 823.5,1089.5 823.6,1090.2 823.6,1090.9 823.6,1091.9 823.7,1093.0 823.7,1094.0 823.7,1094.6 823.7,1095.9 823.8,1096.4 823.8,1097.6 823.8,1098.8 823.9,1099.6 823.9,1101.3 823.9,1102.2 823.9,1103.5 823.9,1104.8 824.0,1106.0 824.0,1107.0 824.0,1107.9 824.0,1109.7 824.0,1110.9 824.0,1111.8 824.0,1113.0 824.0,1113.8 824.0,1115.4 824.0,1116.4 824.0,1117.0 824.1,1118.6 824.1,1119.7 824.1,1120.2 824.2,1121.6 824.2,1122.1 824.2,1122.8 824.3,1124.1 824.4,1124.6 824.5,1125.7 824.5,1126.3 824.6,1126.6 824.7,1127.6 824.9,1128.4 825.0,1128.7 825.7,1130.5 826.7,1131.6 827.7,1131.3 828.9,1131.1 830.1,1130.6 831.3,1130.4 832.5,1129.9 833.5,1129.9 834.7,1130.6 835.8,1130.5 836.9,1130.4 838.1,1131.0 839.1,1131.2 840.1,1131.2 841.0,1131.9 841.9,1132.4 842.7,1133.2 843.4,1133.8 844.0,1134.5 844.5,1136.0 844.9,1136.8 845.3,1137.2" fill="none" stroke="#f33a3a" stroke-width="5.4" stroke-linejoin="round" stroke-linecap="round"/>
<polyline points="182.9,1040.6 183.1,1042.8 183.2,1045.8 183.4,1048.7 183.6,1050.5 183.7,1054.3 183.9,1056.6 184.0,1058.8 184.2,1060.7 184.5,1064.7 184.9,1066.9 185.2,1070.8 185.5,1072.2 185.9,1075.6 186.2,1077.9 186.5,1081.1 186.8,1084.2 187.1,1085.6 187.5,1088.1 187.8,1091.8 188.1,1093.7 190.8,1091.9 191.1,1088.4 191.4,1085.6 191.7,1084.1 192.0,1082.5 192.2,1079.7 192.5,1076.1 192.8,1073.2 193.1,1069.7 193.4,1067.6 193.7,1065.1 194.0,1064.1 194.3,1059.3 194.5,1058.9 194.8,1055.0 195.1,1052.3 195.4,1049.2 195.6,1048.5 195.7,1044.0 195.9,1042.5 196.1,1039.8 196.3,1036.5 196.4,1034.0 196.6,1033.5 196.8,1030.5 197.0,1027.8 197.1,1025.8 197.3,1021.2 197.6,1019.9 198.0,1017.3 198.3,1013.1 198.7,1010.9 199.0,1009.5 199.3,1005.0 199.7,1003.4 200.0,999.0 201.0,997.7 201.9,994.1 202.9,992.0 203.9,989.1 206.5,987.8 207.8,990.1 209.2,992.1 210.5,995.2 211.3,997.1 212.1,1000.7 212.8,1001.9 213.6,1005.3 214.4,1008.0 215.7,1010.1 217.1,1011.9 218.4,1014.8 219.7,1018.7 220.7,1020.2 221.8,1024.2 222.8,1026.2 223.9,1030.0 224.9,1032.3 226.0,1034.6 227.0,1036.3 228.1,1038.1 229.1,1042.1 230.2,1045.2 231.9,1048.3 233.7,1049.1 235.4,1051.6 236.5,1056.4 237.5,1058.4 238.6,1060.3 239.6,1063.6 240.7,1064.7 242.4,1068.3 244.2,1071.3 245.9,1073.8 250.0,1075.4 252.1,1077.5 254.2,1080.8 255.2,1084.4 256.3,1085.4 257.3,1087.9 258.4,1091.0 260.5,1097.0 261.9,1093.9 263.3,1092.0 264.7,1091.3 268.9,1092.4 271.0,1089.9 273.2,1089.4 274.6,1089.7 276.0,1092.6 277.4,1095.8 279.5,1096.5 281.6,1098.3 283.0,1101.6 284.4,1103.3 285.8,1107.0 287.9,1103.2 290.0,1103.4 292.6,1104.4 295.3,1107.6 298.4,1109.9 299.8,1108.3 301.2,1105.3 302.6,1103.0 305.2,1102.0 307.9,1101.3 310.5,1101.7 313.2,1103.0 315.3,1101.9 317.4,1099.4 319.5,1098.6 321.6,1097.9 323.7,1096.4 326.3,1095.5 328.9,1093.7 331.5,1095.6 334.2,1098.3 338.4,1101.2 339.2,1098.4 340.0,1097.0 340.8,1093.9 341.6,1092.8 342.3,1089.9 343.0,1087.6 343.7,1085.3 346.8,1088.0 350.0,1089.8 351.1,1086.9 352.1,1083.6 353.1,1082.9 354.2,1079.5 355.2,1075.9 356.3,1075.4 357.4,1072.3 358.6,1070.1 359.7,1067.4 360.8,1064.3 361.9,1064.3 363.1,1059.9 364.2,1058.2 365.1,1057.2 365.9,1052.3 366.8,1050.6 367.7,1048.0 368.5,1044.8 369.4,1043.9 370.2,1040.1 370.9,1036.6 371.7,1035.4 372.4,1031.7 373.2,1031.1 373.9,1029.1 374.7,1026.8 375.2,1022.0 375.7,1021.2 376.3,1017.7 376.8,1015.6 377.3,1012.7 377.8,1010.2 378.3,1007.2 378.9,1006.0 379.4,1002.1 379.9,1001.9 380.3,997.0 380.8,996.8 381.2,992.2 381.7,989.4 382.1,988.6 382.6,985.4 383.0,983.5 383.5,980.3 383.9,978.0 384.6,974.2 385.2,973.2 385.9,970.3 386.5,969.1 387.2,964.1 387.9,961.8 388.5,960.9 389.2,959.1 389.6,955.3 390.1,953.6 390.5,950.7 390.9,947.8 391.4,945.5 391.8,943.3 392.2,939.4 392.7,937.6 393.1,936.2 393.6,932.4 394.2,930.3 394.7,927.1 395.2,924.7 395.8,922.9 396.3,920.5 396.8,918.4 397.3,914.6 397.9,911.2 398.4,909.0 398.8,905.6 399.3,903.5 399.7,901.7 400.1,899.2 400.6,895.6 401.0,892.8 401.4,889.9 401.9,887.5 402.3,885.7 402.5,882.4 402.8,881.4 403.0,878.0 404.6,874.8 406.3,872.4 407.6,868.8 408.9,867.9 410.2,865.4 411.1,861.7 412.0,860.0 412.9,856.2 413.7,853.4 414.6,850.8 415.5,848.1 419.4,846.6 422.0,845.4 424.7,844.3 428.6,840.0 430.6,844.3 432.6,846.2 433.9,848.2 435.2,850.7 436.5,852.7 437.3,854.7 438.1,857.9 438.8,861.1 439.6,863.9 440.4,867.1 441.4,868.2 442.4,872.9 443.4,875.6 444.4,878.4 445.0,881.7 445.7,882.1 446.4,886.4 447.0,889.3 447.4,890.0 447.7,893.9 448.1,897.5 448.5,898.4 448.9,902.6 449.2,905.4 449.6,906.8 450.3,908.7 450.9,911.4 451.6,915.6 452.3,917.1 452.9,919.4 453.6,922.4 454.5,926.2 455.3,927.1 456.2,929.1 457.1,934.2 457.9,935.2 458.8,938.0 459.6,942.2 460.4,943.0 461.2,945.1 462.0,949.8 462.8,950.7 464.1,953.9 465.3,959.0 466.3,959.5 467.4,963.6 468.4,964.4 469.5,966.7 470.5,968.8 471.1,972.1 471.8,974.7 472.4,976.8 473.1,979.6 473.7,981.6 475.4,985.8 477.2,988.8 478.9,991.2 481.5,993.4 484.2,993.6 486.3,995.5 488.4,996.7 490.5,998.0 492.6,1001.6 494.7,1002.8 496.8,1004.3 499.5,1003.9 502.1,1003.2 504.8,1003.5 507.4,1002.0 510.0,1004.8 512.6,1003.6 515.2,1004.7 517.9,1007.5 520.5,1004.5 523.2,1005.3 525.8,1005.3 528.4,1007.8 531.0,1009.0 533.7,1013.6 536.2,1014.1 538.6,1015.7 541.1,1018.3 542.7,1021.3 544.2,1023.6 546.0,1026.0 547.7,1030.0 549.5,1031.4 551.2,1036.4 553.0,1037.9 554.7,1040.2 555.7,1043.0 556.6,1044.8 557.5,1047.7 558.5,1050.6 559.2,1052.8 559.9,1055.1 560.6,1057.5 561.3,1060.5 562.0,1063.7 563.0,1065.6 563.9,1069.3 564.8,1071.4 565.8,1073.2 568.5,1076.0 571.1,1080.4 572.7,1082.3 574.4,1084.9 576.0,1088.0 577.9,1091.3 579.7,1092.5 581.6,1094.9 583.3,1097.1 585.1,1098.2 586.8,1101.7 591.1,1099.4 594.2,1098.4 597.4,1099.9 600.5,1101.5 603.1,1104.8 605.8,1106.0 608.3,1107.0 610.7,1103.7 613.2,1104.7 615.8,1105.5 618.4,1109.7 621.2,1108.6 624.0,1108.5 626.8,1110.1 630.5,1110.9 634.2,1110.9 636.7,1109.5 639.1,1108.2 641.6,1104.3 644.1,1106.1 646.6,1106.3 649.2,1108.9 651.7,1109.0 654.2,1110.6 656.7,1109.5 659.2,1108.8 661.8,1106.7 664.3,1105.9 666.8,1103.8 669.3,1103.0 671.9,1105.6 674.4,1103.9 677.0,1104.3 679.5,1106.7 682.0,1105.2 684.5,1106.2 687.0,1104.6 689.5,1105.0 692.2,1105.1 695.0,1102.1 697.7,1102.1 699.9,1105.1 702.1,1105.1 702.7,1109.0 703.4,1111.8 704.0,1114.1 704.7,1117.1 705.3,1119.6 706.1,1115.3 706.8,1113.2 707.6,1111.6 708.4,1110.2 711.6,1106.4 715.4,1106.7 718.2,1103.3 721.1,1103.0 723.3,1103.8 725.5,1105.9 728.0,1106.2 730.5,1104.9 733.7,1107.1 736.9,1108.0 739.6,1107.9 742.4,1106.2 745.1,1105.9 747.5,1103.9 750.0,1104.0 752.6,1101.5 755.2,1100.0 756.5,1102.6 757.8,1105.2 759.0,1106.4 760.3,1108.7 763.5,1109.1 766.6,1108.5 768.8,1104.9 771.0,1101.9 773.9,1102.8 776.7,1100.9 779.6,1100.9 782.6,1100.9 785.5,1102.7 787.6,1103.0 789.7,1104.2 791.8,1105.6 793.6,1103.9 795.4,1102.3 797.1,1099.4 798.9,1098.6 800.7,1095.6 803.2,1095.9 805.8,1097.3 808.3,1098.0 810.8,1099.3 813.3,1100.3 815.8,1098.2 818.4,1096.0 820.9,1094.8 823.8,1092.7 826.8,1093.8 829.7,1092.2 832.9,1091.7 836.0,1087.8 837.7,1091.0 839.4,1093.0 841.1,1095.8 843.0,1091.3 844.9,1088.3 846.2,1087.6" fill="none" stroke="#1f3dfc" stroke-width="5.4" stroke-linejoin="round" stroke-linecap="round"/>
<polyline points="184.2,1018.3 186.0,1019.3 187.1,1023.2 188.1,1026.4 188.6,1027.8 189.0,1030.8 189.4,1033.5 189.9,1037.6 190.4,1039.3 190.8,1042.1 191.3,1044.5 191.8,1048.2 192.2,1051.5 192.7,1054.1 193.5,1049.9 194.3,1047.8 195.2,1044.9 196.0,1041.1 196.3,1039.9 196.5,1036.4 196.8,1033.7 197.0,1031.7 197.3,1029.0 197.6,1026.2 197.8,1024.3 198.1,1021.0 198.3,1018.0 198.6,1014.8 199.0,1013.0 199.4,1009.8 199.8,1007.3 200.1,1004.1 200.5,1000.6 200.9,997.9 201.3,995.3 201.7,992.6 202.2,991.4 202.6,988.3 203.0,984.9 203.5,983.3 203.9,980.5 205.2,976.3 206.5,974.6 207.8,970.5 209.8,970.0 211.8,966.4 213.8,968.6 215.7,970.5 216.7,974.0 217.7,976.2 218.7,978.1 219.7,979.5 220.7,982.4 221.8,985.3 222.8,986.4 223.9,990.5 224.9,992.7 226.0,995.5 227.0,997.7 228.1,1000.2 229.1,1003.5 230.2,1004.7 231.2,1007.4 232.3,1009.7 233.3,1012.4 234.4,1016.3 235.4,1017.5 236.5,1021.4 237.5,1023.3 238.6,1026.9 239.6,1029.3 240.7,1031.8 242.0,1034.7 243.3,1035.8 244.6,1038.9 245.9,1041.7 247.0,1044.5 248.0,1047.6 249.1,1050.6 250.1,1053.0 251.2,1056.0 252.6,1058.0 253.9,1059.8 255.3,1062.6 256.6,1065.7 257.9,1068.5 259.2,1070.3 260.5,1072.9 263.1,1075.0 265.8,1075.8 267.6,1079.9 269.3,1080.9 271.1,1085.0 273.7,1086.8 276.3,1088.3 279.0,1091.7 281.6,1094.1 284.2,1096.2 286.8,1097.1 289.5,1098.1 292.1,1100.2 294.8,1100.3 297.4,1098.8 300.0,1099.4 302.6,1098.6 305.2,1099.1 307.9,1098.9 310.5,1096.6 313.2,1094.7 315.8,1095.1 318.4,1093.6 321.0,1095.3 323.7,1095.4 326.3,1096.5 328.9,1096.0 331.5,1096.5 334.2,1098.2 336.9,1097.7 339.5,1097.2 342.1,1097.0 344.7,1096.2 347.4,1095.0 350.0,1093.2 353.1,1090.9 356.3,1090.4 357.9,1087.7 359.5,1084.9 361.0,1081.5 362.6,1078.8 364.2,1077.4 365.2,1075.2 366.3,1072.5 367.3,1069.2 368.4,1067.9 369.4,1065.1 370.3,1062.2 371.2,1060.0 372.0,1057.1 372.9,1054.9 373.8,1052.4 374.7,1050.3 375.3,1046.1 376.0,1044.5 376.6,1042.8 377.3,1039.8 377.9,1037.1 378.6,1035.2 379.2,1031.1 379.9,1030.2 380.5,1027.2 381.1,1024.5 381.7,1021.4 382.3,1019.3 382.8,1015.7 383.4,1013.9 384.0,1010.8 384.6,1009.5 385.2,1006.6 385.7,1003.4 386.2,1001.4 386.6,998.1 387.1,995.8 387.6,992.5 388.1,991.3 388.6,988.5 389.1,985.9 389.5,982.0 390.0,980.9 390.5,976.7 391.0,975.2 391.6,972.4 392.1,968.9 392.6,967.0 393.1,965.3 393.7,962.2 394.2,958.9 394.7,957.3 395.3,953.7 395.8,952.2 396.3,948.6 396.8,945.3 397.4,944.5 397.9,940.0 398.4,937.8 398.9,936.2 399.4,932.2 400.0,930.4 400.5,928.4 401.0,925.3 401.6,922.3 402.2,920.7 402.8,918.3 403.4,915.3 403.9,913.0 404.5,909.9 405.1,907.6 405.7,906.3 406.3,903.7 406.9,899.3 407.6,897.3 408.2,894.9 408.9,893.5 409.6,889.9 410.2,887.4 410.9,886.1 411.5,882.4 412.3,881.4 413.0,877.8 413.8,876.0 414.5,873.2 415.3,869.4 416.0,867.9 416.8,864.5 417.4,861.5 418.1,858.5 418.8,857.2 419.4,854.3 420.1,851.2 420.7,849.6 421.4,845.7 422.0,843.6 423.0,840.2 424.0,838.1 425.0,836.5 426.0,833.1 428.6,831.1 431.2,830.0 433.4,832.1 435.6,832.7 437.8,835.3 438.8,835.9 439.8,839.8 440.8,841.6 441.8,844.3 442.6,846.0 443.4,848.1 444.1,850.9 444.9,854.4 445.7,855.9 446.5,858.6 447.3,862.6 448.0,865.4 448.8,868.0 449.6,870.6 450.4,872.7 451.2,875.9 452.0,878.2 452.8,880.6 453.6,883.0 454.2,884.8 454.9,887.5 455.6,890.4 456.2,893.5 456.9,895.4 457.5,899.7 458.1,901.6 458.6,904.5 459.2,907.5 459.8,908.8 460.4,912.7 460.9,915.5 461.5,916.7 462.1,919.1 462.7,923.1 463.2,925.9 463.8,928.3 464.4,930.2 465.0,933.2 465.8,935.2 466.7,938.5 467.5,941.8 468.4,945.0 469.2,946.2 470.1,950.4 471.0,951.1 471.9,955.3 472.8,956.3 473.7,959.8 474.6,962.2 475.5,964.9 476.9,966.6 478.3,969.7 479.7,971.6 481.1,975.4 482.1,976.2 483.2,980.1 484.2,981.8 485.3,983.1 486.3,987.2 488.1,988.4 489.8,990.4 491.6,993.2 494.2,995.4 496.8,998.5 499.5,999.9 502.1,1001.0 504.8,1002.9 507.4,1006.0 510.0,1007.0 512.6,1007.8 515.2,1008.2 517.9,1009.0 520.5,1010.4 523.2,1012.7 525.8,1014.7 528.4,1018.4 531.0,1019.1 533.7,1021.3 536.3,1023.3 538.9,1025.6 540.7,1027.0 542.4,1029.7 544.2,1033.0 546.0,1034.1 547.7,1037.1 549.5,1039.8 550.7,1041.1 551.8,1044.7 553.0,1046.4 554.1,1049.5 555.3,1051.2 556.3,1054.1 557.4,1056.5 558.4,1058.1 559.5,1061.2 560.5,1063.9 561.6,1066.1 562.6,1069.1 563.7,1072.1 564.7,1074.4 565.8,1076.9 567.6,1077.7 569.3,1080.9 571.1,1082.9 572.8,1086.3 574.6,1087.3 576.3,1090.4 579.0,1094.7 581.6,1096.0 582.9,1099.1 584.2,1101.2 585.5,1103.2 586.8,1105.7 589.5,1107.5 592.1,1109.9 594.8,1110.1 597.4,1111.7 600.0,1111.2 602.6,1112.5 605.2,1113.4 607.9,1114.7 610.5,1115.8 613.2,1115.0 615.8,1117.1 618.5,1116.8 621.1,1116.5 623.7,1117.3 626.4,1116.4 629.2,1116.4 631.9,1117.4 634.7,1116.9 637.4,1117.0 640.0,1115.2 642.6,1114.7 645.3,1114.9 647.9,1114.7 650.5,1114.8 653.1,1113.6 655.8,1114.1 658.4,1113.4 661.2,1112.2 664.0,1112.7 666.8,1110.7 669.7,1111.3 672.5,1109.9 675.3,1109.1 680.0,1111.5 682.5,1112.1 685.0,1112.8 687.6,1112.8 690.1,1114.4 692.6,1114.7 695.1,1112.7 697.5,1111.7 700.0,1112.9 702.6,1110.6 705.3,1108.8 708.1,1110.7 711.0,1113.4 714.5,1113.2 717.9,1114.4 720.4,1115.2 722.9,1114.6 725.5,1115.4 728.0,1116.1 730.5,1115.9 733.7,1116.1 736.8,1116.7 740.0,1116.6 742.5,1117.6 745.1,1117.9 747.6,1118.1 750.1,1118.0 752.7,1118.7 755.2,1117.7 757.8,1118.9 760.3,1119.6 762.8,1117.5 765.3,1117.8 767.9,1119.2 770.4,1117.2 772.9,1118.5 775.4,1117.6 777.9,1116.2 780.5,1116.9 783.0,1115.2 785.5,1116.5 788.0,1115.0 790.5,1116.6 793.1,1117.0 795.6,1115.8 798.2,1116.7 800.7,1116.6 803.4,1117.3 806.2,1115.5 808.9,1114.9 811.6,1114.5 814.4,1115.4 817.1,1113.7 819.6,1113.7 822.1,1113.8 824.7,1113.9 827.2,1113.5 829.7,1114.4 832.5,1112.9 835.2,1112.8 838.0,1113.3 840.7,1111.7 843.5,1111.3 846.2,1111.6" fill="none" stroke="#0a870a" stroke-width="5.5" stroke-linejoin="round" stroke-linecap="round"/>
<line x1="122.2" y1="730.4" x2="170.2" y2="730.4" stroke="#f33a3a" stroke-width="4.8" stroke-linecap="round"/>
<line x1="122.2" y1="757.7" x2="170.2" y2="757.7" stroke="#1f3dfc" stroke-width="4.8" stroke-linecap="round"/>
<line x1="122.2" y1="783.8" x2="170.2" y2="783.8" stroke="#0a870a" stroke-width="4.8" stroke-linecap="round"/>
<g transform="matrix(1.0158,0,0,1,143.41,909.20)"><text class="big">b) DTG curve</text></g>
<g transform="matrix(1.0751,0,0,1,175.29,737.70)"><text class="lg">Hard-groundwater biofilms</text></g>
<g transform="matrix(1.0733,0,0,1,175.53,763.60)"><text class="lg">Soft-groundwater biofilms</text></g>
<g transform="matrix(1.0822,0,0,1,175.52,789.50)"><text class="lg">SHMP biofilms</text></g>
<g transform="matrix(0.9910,0,0,1,395.06,1210.70)"><text class="axs">Temperature</text></g>
<g transform="matrix(0.8774,0,0,0.9688,563.76,1210.39)"><text class="axs">(</text></g>
<g transform="matrix(1.0194,0,0,0.9798,602.95,1210.22)"><text class="axs">)</text></g>
<g transform="translate(37.40,1104.59) rotate(-90) scale(0.9715,1)"><text class="ax">Derivative biofilm weight</text></g>
<g transform="translate(36.87,790.91) rotate(-90) scale(0.7484,0.9725)"><text class="ax">(</text></g>
<g transform="translate(37.05,781.10) rotate(-90) scale(0.9011,0.9902)"><text class="ax">%</text></g>
<g transform="translate(36.87,719.60) rotate(-90) scale(0.8000,0.9725)"><text class="ax">)</text></g>
<g transform="matrix(0.95,0,0,1,47.04,1145.20)"><text class="tks">0.0</text></g>
<g transform="matrix(0.95,0,0,1,45.28,1030.15)"><text class="tks">0.1</text></g>
<g transform="matrix(0.95,0,0,1,47.28,915.10)"><text class="tks">0.2</text></g>
<g transform="matrix(0.95,0,0,1,47.04,800.05)"><text class="tks">0.3</text></g>
<g transform="matrix(1.0542,0,0,1.0741,47.11,684.03)"><text class="tkser">0.4</text></g>
<g transform="matrix(1.08,0,0,1,153.58,1167.40)"><text class="tk">0</text></g>
<g transform="matrix(1.08,0,0,1,291.74,1167.40)"><text class="tk">200</text></g>
<g transform="matrix(1.08,0,0,1,444.20,1167.40)"><text class="tk">400</text></g>
<g transform="matrix(1.08,0,0,1,595.86,1167.40)"><text class="tk">600</text></g>
<g transform="matrix(1.08,0,0,1,748.05,1167.40)"><text class="tk">800</text></g>
<g transform="matrix(1.08,0,0,1,892.82,1167.40)"><text class="tk">1000</text></g>
<g transform="translate(17.4,741.3) rotate(-90)"><path d="M14.75,3.86 A7.97,9.10 0 1 0 14.75,16.04" fill="none" stroke="#222" stroke-width="1.7"/><line x1="14.75" y1="3.26" x2="14.75" y2="7.06" stroke="#222" stroke-width="1.7"/></g>
<circle cx="18.8" cy="744.3" r="1.9" fill="none" stroke="#2a2a2a" stroke-width="1.1"/>
<line x1="18.0" y1="751.3" x2="36.4" y2="756.3" stroke="#111" stroke-width="1.7"/>
</svg></body></html>
